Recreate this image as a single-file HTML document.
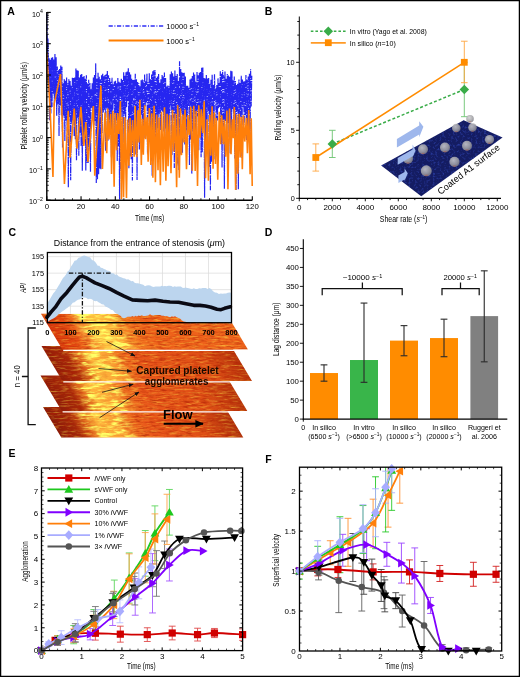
<!DOCTYPE html>
<html><head><meta charset="utf-8"><style>
html,body{margin:0;padding:0;background:#fff;}
svg{display:block;font-family:"Liberation Sans", sans-serif;will-change:transform;}
</style></head><body>
<svg width="520" height="677" viewBox="0 0 520 677">
<rect x="0" y="0" width="520" height="677" fill="#fff"/>
<text x="7.2" y="14.9" font-size="10.5" text-anchor="start" font-weight="bold" fill="#000"  style="">A</text><polyline points="46.8,13.71 47.38,55.1 47.96,38.54 48.55,92.11 49.13,58.21 49.71,120.27 50.29,59.78 50.88,113.61 51.46,57.65 52.04,106.92 52.62,57.38 53.2,93.66 53.79,59.49 54.37,105.4 54.95,53.94 55.53,98.49 56.12,57.38 56.7,115.81 57.28,66.45 57.86,104.52 58.44,70.24 59.03,135.98 59.61,69 60.19,105.45 60.77,65.06 61.36,115.29 61.94,66.72 62.52,147.51 63.1,83.29 63.69,115.51 64.27,79.09 64.85,140.97 65.43,80.67 66.01,120.43 66.6,77.27 67.18,131.2 67.76,83.26 68.34,187.45 68.93,79.04 69.51,116.93 70.09,80.7 70.67,180.15 71.25,85.41 71.84,123.6 72.42,77.46 73,120.52 73.58,77.95 74.17,136.33 74.75,77.59 75.33,139.14 75.91,68.42 76.49,160.32 77.08,69.89 77.66,117.62 78.24,70.75 78.82,155.84 79.41,77.44 79.99,132.65 80.57,74.86 81.15,146.51 81.73,73.9 82.32,170.71 82.9,77.05 83.48,137.81 84.06,76 84.65,138.03 85.23,78.76 85.81,170.41 86.39,75.13 86.98,162.63 87.56,83.38 88.14,162.93 88.72,79.78 89.3,148.17 89.89,83.09 90.47,171.72 91.05,89.3 91.63,107.97 92.22,83.15 92.8,116.08 93.38,77.52 93.96,125.16 94.54,74.98 95.13,121 95.71,63.38 96.29,183.12 96.87,78.86 97.46,179.16 98.04,72.75 98.62,174.27 99.2,76.67 99.78,168.5 100.37,79.31 100.95,169.28 101.53,75.22 102.11,132.99 102.7,73.81 103.28,112.38 103.86,76.32 104.44,109.84 105.03,74.96 105.61,150.72 106.19,74.35 106.77,108.23 107.35,70.92 107.94,141.12 108.52,75.27 109.1,136.21 109.68,77.88 110.27,130.15 110.85,81.51 111.43,157.34 112.01,77.86 112.59,141.13 113.18,84.25 113.76,103.45 114.34,81.4 114.92,133.2 115.51,80.81 116.09,120.47 116.67,83.24 117.25,161.11 117.83,77.89 118.42,146.17 119,81.7 119.58,199.53 120.16,82.84 120.75,170.5 121.33,78.73 121.91,111.87 122.49,80.01 123.07,142.85 123.66,72.16 124.24,114.45 124.82,75.33 125.4,154.01 125.99,72.14 126.57,107.03 127.15,71.63 127.73,101 128.32,68.3 128.9,168.19 129.48,72.26 130.06,155.83 130.64,74.44 131.23,159.33 131.81,78.8 132.39,180.4 132.97,80.04 133.56,141.17 134.14,79.61 134.72,104.92 135.3,73.83 135.88,154.44 136.47,79.28 137.05,180.03 137.63,81.92 138.21,108.04 138.8,83.32 139.38,149.39 139.96,86.25 140.54,142.6 141.12,80.38 141.71,114.7 142.29,79.5 142.87,142.89 143.45,80.6 144.04,138.36 144.62,74.54 145.2,106.6 145.78,81.25 146.36,102.14 146.95,73.73 147.53,154.33 148.11,82.18 148.69,114.23 149.28,72.93 149.86,137.53 150.44,78.81 151.02,160.43 151.61,74.53 152.19,175.81 152.77,71.16 153.35,128.41 153.93,70.37 154.52,123.95 155.1,69.95 155.68,153.67 156.26,77.9 156.85,131.62 157.43,76.56 158.01,128.3 158.59,73.9 159.17,113.76 159.76,82.65 160.34,130.06 160.92,79.18 161.5,110.43 162.09,75.01 162.67,112.09 163.25,76.45 163.83,131.43 164.41,72.4 165,128.49 165.58,78.12 166.16,138 166.74,86.47 167.33,129.81 167.91,85.48 168.49,148.42 169.07,86.33 169.65,144.86 170.24,74.36 170.82,105.57 171.4,71.57 171.98,155.1 172.57,73 173.15,117.95 173.73,76.61 174.31,167.9 174.9,70.54 175.48,120.23 176.06,75.92 176.64,163.48 177.22,73.98 177.81,165.26 178.39,81.12 178.97,170.06 179.55,61.23 180.14,154.55 180.72,69.01 181.3,112.7 181.88,72.16 182.46,152.78 183.05,73 183.63,120.09 184.21,72.72 184.79,144.4 185.38,76.45 185.96,136.26 186.54,85.88 187.12,130.31 187.7,85.77 188.29,105.96 188.87,87.72 189.45,164.89 190.03,79.33 190.62,139.37 191.2,78.06 191.78,173.63 192.36,75.88 192.94,131.06 193.53,72.57 194.11,113.42 194.69,74.4 195.27,146.84 195.86,81.43 196.44,155.2 197.02,71.47 197.6,116.57 198.19,75.19 198.77,150.28 199.35,72.79 199.93,133.72 200.51,71.9 201.1,157.27 201.68,67.84 202.26,152.3 202.84,67.47 203.43,116.02 204.01,78.04 204.59,197.71 205.17,78.58 205.75,156.48 206.34,75.1 206.92,141.01 207.5,78.53 208.08,111.31 208.67,77.98 209.25,166.83 209.83,83.77 210.41,190.23 210.99,79.63 211.58,161.72 212.16,74.83 212.74,129.12 213.32,85.03 213.91,159.34 214.49,74.29 215.07,101.14 215.65,88.03 216.23,138.94 216.82,84.62 217.4,120.42 217.98,78.33 218.56,108.12 219.15,82.81 219.73,107.03 220.31,71.21 220.89,143.66 221.48,73.76 222.06,167.55 222.64,70.23 223.22,131.87 223.8,75.06 224.39,188.77 224.97,71.56 225.55,121.03 226.13,78.47 226.72,128.63 227.3,74.07 227.88,123.25 228.46,75.51 229.04,137.33 229.63,76.76 230.21,153.15 230.79,70.85 231.37,134.99 231.96,71.16 232.54,108.88 233.12,80.31 233.7,134.71 234.28,76.54 234.87,158.57 235.45,80.95 236.03,189.9 236.61,84.94 237.2,110.92 237.78,83.86 238.36,189.16 238.94,79.42 239.52,137.53 240.11,82.91 240.69,116.79 241.27,75.65 241.85,157.87 242.44,79.45 243.02,107.24 243.6,81.58 244.18,124.48 244.77,81.38 245.35,115.02 245.93,75 246.51,139.91 247.09,79.83 247.68,135.06 248.26,76.42 248.84,140.95 249.42,73.81 250.01,147.06 250.59,69.19 251.17,106.4 251.75,75.69" stroke="#2626f0" stroke-width="1.2" fill="none" stroke-linejoin="bevel" stroke-dasharray="7 0.9 1.5 0.9"/><rect x="68.33" y="77.16" width="0.9" height="0.9" fill="#fff" opacity="0.85"/><rect x="80.27" y="86.42" width="0.9" height="0.9" fill="#fff" opacity="0.85"/><rect x="218.78" y="86.08" width="0.9" height="0.9" fill="#fff" opacity="0.85"/><rect x="110.72" y="103.41" width="0.9" height="0.9" fill="#fff" opacity="0.85"/><rect x="194.86" y="76.51" width="0.9" height="0.9" fill="#fff" opacity="0.85"/><rect x="182.99" y="95.13" width="0.9" height="0.9" fill="#fff" opacity="0.85"/><rect x="127.95" y="101.04" width="0.9" height="0.9" fill="#fff" opacity="0.85"/><rect x="194.3" y="100.03" width="0.9" height="0.9" fill="#fff" opacity="0.85"/><rect x="157.26" y="91.17" width="0.9" height="0.9" fill="#fff" opacity="0.85"/><rect x="176.96" y="117.02" width="0.9" height="0.9" fill="#fff" opacity="0.85"/><rect x="96.43" y="87.89" width="0.9" height="0.9" fill="#fff" opacity="0.85"/><rect x="164.5" y="82.1" width="0.9" height="0.9" fill="#fff" opacity="0.85"/><rect x="60.74" y="108.67" width="0.9" height="0.9" fill="#fff" opacity="0.85"/><rect x="150.8" y="86.09" width="0.9" height="0.9" fill="#fff" opacity="0.85"/><rect x="89.31" y="85.31" width="0.9" height="0.9" fill="#fff" opacity="0.85"/><rect x="132.45" y="105.43" width="0.9" height="0.9" fill="#fff" opacity="0.85"/><rect x="216.42" y="114.13" width="0.9" height="0.9" fill="#fff" opacity="0.85"/><rect x="237.32" y="105.21" width="0.9" height="0.9" fill="#fff" opacity="0.85"/><rect x="122.81" y="109.92" width="0.9" height="0.9" fill="#fff" opacity="0.85"/><rect x="143.99" y="81.91" width="0.9" height="0.9" fill="#fff" opacity="0.85"/><rect x="94.52" y="94.54" width="0.9" height="0.9" fill="#fff" opacity="0.85"/><rect x="138.43" y="105.6" width="0.9" height="0.9" fill="#fff" opacity="0.85"/><rect x="76.31" y="88.24" width="0.9" height="0.9" fill="#fff" opacity="0.85"/><rect x="133.4" y="98.24" width="0.9" height="0.9" fill="#fff" opacity="0.85"/><rect x="170.98" y="114.13" width="0.9" height="0.9" fill="#fff" opacity="0.85"/><rect x="214.07" y="79.78" width="0.9" height="0.9" fill="#fff" opacity="0.85"/><rect x="101.18" y="83.06" width="0.9" height="0.9" fill="#fff" opacity="0.85"/><rect x="190.25" y="105.75" width="0.9" height="0.9" fill="#fff" opacity="0.85"/><rect x="104.29" y="115.14" width="0.9" height="0.9" fill="#fff" opacity="0.85"/><rect x="133.21" y="99.05" width="0.9" height="0.9" fill="#fff" opacity="0.85"/><rect x="147.77" y="97.72" width="0.9" height="0.9" fill="#fff" opacity="0.85"/><rect x="160.16" y="113.35" width="0.9" height="0.9" fill="#fff" opacity="0.85"/><rect x="95.22" y="94.32" width="0.9" height="0.9" fill="#fff" opacity="0.85"/><rect x="144.87" y="111.18" width="0.9" height="0.9" fill="#fff" opacity="0.85"/><rect x="105.68" y="75.92" width="0.9" height="0.9" fill="#fff" opacity="0.85"/><rect x="210.32" y="86.97" width="0.9" height="0.9" fill="#fff" opacity="0.85"/><rect x="121.41" y="100.48" width="0.9" height="0.9" fill="#fff" opacity="0.85"/><rect x="191.46" y="94.2" width="0.9" height="0.9" fill="#fff" opacity="0.85"/><rect x="178.55" y="117.26" width="0.9" height="0.9" fill="#fff" opacity="0.85"/><rect x="193" y="110.05" width="0.9" height="0.9" fill="#fff" opacity="0.85"/><rect x="115.84" y="95.56" width="0.9" height="0.9" fill="#fff" opacity="0.85"/><rect x="240.41" y="101.05" width="0.9" height="0.9" fill="#fff" opacity="0.85"/><rect x="179.68" y="109.68" width="0.9" height="0.9" fill="#fff" opacity="0.85"/><rect x="238.47" y="107.96" width="0.9" height="0.9" fill="#fff" opacity="0.85"/><rect x="158.59" y="88.99" width="0.9" height="0.9" fill="#fff" opacity="0.85"/><rect x="190.29" y="99.3" width="0.9" height="0.9" fill="#fff" opacity="0.85"/><rect x="179.88" y="118.37" width="0.9" height="0.9" fill="#fff" opacity="0.85"/><rect x="247.63" y="94.35" width="0.9" height="0.9" fill="#fff" opacity="0.85"/><rect x="169.46" y="107.67" width="0.9" height="0.9" fill="#fff" opacity="0.85"/><rect x="146.42" y="90.67" width="0.9" height="0.9" fill="#fff" opacity="0.85"/><rect x="132.87" y="113.5" width="0.9" height="0.9" fill="#fff" opacity="0.85"/><rect x="89.58" y="80.53" width="0.9" height="0.9" fill="#fff" opacity="0.85"/><rect x="91.43" y="96.29" width="0.9" height="0.9" fill="#fff" opacity="0.85"/><rect x="192.7" y="109.12" width="0.9" height="0.9" fill="#fff" opacity="0.85"/><rect x="212.07" y="97.97" width="0.9" height="0.9" fill="#fff" opacity="0.85"/><rect x="239.98" y="109.85" width="0.9" height="0.9" fill="#fff" opacity="0.85"/><rect x="135.45" y="102.93" width="0.9" height="0.9" fill="#fff" opacity="0.85"/><rect x="104.94" y="100.14" width="0.9" height="0.9" fill="#fff" opacity="0.85"/><rect x="135.8" y="101.54" width="0.9" height="0.9" fill="#fff" opacity="0.85"/><rect x="224.16" y="104.56" width="0.9" height="0.9" fill="#fff" opacity="0.85"/><rect x="61.49" y="85.95" width="0.9" height="0.9" fill="#fff" opacity="0.85"/><rect x="137.29" y="117.72" width="0.9" height="0.9" fill="#fff" opacity="0.85"/><rect x="201.43" y="87.01" width="0.9" height="0.9" fill="#fff" opacity="0.85"/><rect x="181.46" y="82.9" width="0.9" height="0.9" fill="#fff" opacity="0.85"/><rect x="104.24" y="81.99" width="0.9" height="0.9" fill="#fff" opacity="0.85"/><rect x="123.11" y="81.18" width="0.9" height="0.9" fill="#fff" opacity="0.85"/><rect x="250.3" y="94.53" width="0.9" height="0.9" fill="#fff" opacity="0.85"/><rect x="134.74" y="86.62" width="0.9" height="0.9" fill="#fff" opacity="0.85"/><rect x="194.38" y="96.68" width="0.9" height="0.9" fill="#fff" opacity="0.85"/><rect x="66.53" y="103.23" width="0.9" height="0.9" fill="#fff" opacity="0.85"/><rect x="186.57" y="118.21" width="0.9" height="0.9" fill="#fff" opacity="0.85"/><rect x="132.17" y="78.66" width="0.9" height="0.9" fill="#fff" opacity="0.85"/><rect x="193.5" y="107.41" width="0.9" height="0.9" fill="#fff" opacity="0.85"/><rect x="77.44" y="93.78" width="0.9" height="0.9" fill="#fff" opacity="0.85"/><rect x="173.48" y="106.27" width="0.9" height="0.9" fill="#fff" opacity="0.85"/><rect x="153.58" y="75.36" width="0.9" height="0.9" fill="#fff" opacity="0.85"/><rect x="180.48" y="95.05" width="0.9" height="0.9" fill="#fff" opacity="0.85"/><rect x="62.75" y="98.03" width="0.9" height="0.9" fill="#fff" opacity="0.85"/><rect x="54.73" y="76.59" width="0.9" height="0.9" fill="#fff" opacity="0.85"/><rect x="153.82" y="92.49" width="0.9" height="0.9" fill="#fff" opacity="0.85"/><rect x="186.61" y="117.05" width="0.9" height="0.9" fill="#fff" opacity="0.85"/><rect x="214.81" y="88.2" width="0.9" height="0.9" fill="#fff" opacity="0.85"/><rect x="64.64" y="78.74" width="0.9" height="0.9" fill="#fff" opacity="0.85"/><rect x="223.75" y="75.43" width="0.9" height="0.9" fill="#fff" opacity="0.85"/><rect x="68.77" y="78.69" width="0.9" height="0.9" fill="#fff" opacity="0.85"/><rect x="206.39" y="107.68" width="0.9" height="0.9" fill="#fff" opacity="0.85"/><rect x="66.16" y="89.17" width="0.9" height="0.9" fill="#fff" opacity="0.85"/><rect x="62.78" y="94.82" width="0.9" height="0.9" fill="#fff" opacity="0.85"/><rect x="211.64" y="101.45" width="0.9" height="0.9" fill="#fff" opacity="0.85"/><rect x="116.88" y="100.54" width="0.9" height="0.9" fill="#fff" opacity="0.85"/><rect x="73.08" y="116.09" width="0.9" height="0.9" fill="#fff" opacity="0.85"/><rect x="163.3" y="82.95" width="0.9" height="0.9" fill="#fff" opacity="0.85"/><rect x="248.92" y="114.26" width="0.9" height="0.9" fill="#fff" opacity="0.85"/><rect x="110.95" y="83.01" width="0.9" height="0.9" fill="#fff" opacity="0.85"/><rect x="108.69" y="85.16" width="0.9" height="0.9" fill="#fff" opacity="0.85"/><rect x="238.74" y="81.17" width="0.9" height="0.9" fill="#fff" opacity="0.85"/><rect x="175.31" y="86.9" width="0.9" height="0.9" fill="#fff" opacity="0.85"/><rect x="221.99" y="112.64" width="0.9" height="0.9" fill="#fff" opacity="0.85"/><rect x="117.68" y="86.66" width="0.9" height="0.9" fill="#fff" opacity="0.85"/><rect x="146" y="85.11" width="0.9" height="0.9" fill="#fff" opacity="0.85"/><rect x="245.5" y="87.08" width="0.9" height="0.9" fill="#fff" opacity="0.85"/><rect x="168.43" y="87.13" width="0.9" height="0.9" fill="#fff" opacity="0.85"/><rect x="235.96" y="114.51" width="0.9" height="0.9" fill="#fff" opacity="0.85"/><rect x="59.73" y="84.12" width="0.9" height="0.9" fill="#fff" opacity="0.85"/><rect x="221.11" y="89.96" width="0.9" height="0.9" fill="#fff" opacity="0.85"/><rect x="141.66" y="107.11" width="0.9" height="0.9" fill="#fff" opacity="0.85"/><rect x="247.41" y="87.92" width="0.9" height="0.9" fill="#fff" opacity="0.85"/><rect x="247.79" y="89.88" width="0.9" height="0.9" fill="#fff" opacity="0.85"/><rect x="221.45" y="108.72" width="0.9" height="0.9" fill="#fff" opacity="0.85"/><rect x="194.82" y="114.6" width="0.9" height="0.9" fill="#fff" opacity="0.85"/><rect x="115.75" y="99.17" width="0.9" height="0.9" fill="#fff" opacity="0.85"/><rect x="155.08" y="75.29" width="0.9" height="0.9" fill="#fff" opacity="0.85"/><rect x="176.45" y="114.11" width="0.9" height="0.9" fill="#fff" opacity="0.85"/><rect x="210.07" y="85.53" width="0.9" height="0.9" fill="#fff" opacity="0.85"/><rect x="216.5" y="77.86" width="0.9" height="0.9" fill="#fff" opacity="0.85"/><rect x="206.78" y="96.14" width="0.9" height="0.9" fill="#fff" opacity="0.85"/><rect x="183.48" y="116.41" width="0.9" height="0.9" fill="#fff" opacity="0.85"/><rect x="125.23" y="100.93" width="0.9" height="0.9" fill="#fff" opacity="0.85"/><rect x="197.79" y="116.12" width="0.9" height="0.9" fill="#fff" opacity="0.85"/><rect x="91.41" y="108.28" width="0.9" height="0.9" fill="#fff" opacity="0.85"/><rect x="90.41" y="98.1" width="0.9" height="0.9" fill="#fff" opacity="0.85"/><rect x="249.36" y="104.43" width="0.9" height="0.9" fill="#fff" opacity="0.85"/><rect x="63.82" y="118.05" width="0.9" height="0.9" fill="#fff" opacity="0.85"/><rect x="199.63" y="101.56" width="0.9" height="0.9" fill="#fff" opacity="0.85"/><rect x="247.99" y="107.91" width="0.9" height="0.9" fill="#fff" opacity="0.85"/><rect x="245.27" y="105.13" width="0.9" height="0.9" fill="#fff" opacity="0.85"/><rect x="246.08" y="77.97" width="0.9" height="0.9" fill="#fff" opacity="0.85"/><rect x="130.43" y="114.91" width="0.9" height="0.9" fill="#fff" opacity="0.85"/><rect x="174.61" y="93.15" width="0.9" height="0.9" fill="#fff" opacity="0.85"/><rect x="177.78" y="112.55" width="0.9" height="0.9" fill="#fff" opacity="0.85"/><rect x="218.21" y="103.72" width="0.9" height="0.9" fill="#fff" opacity="0.85"/><rect x="113.83" y="115.53" width="0.9" height="0.9" fill="#fff" opacity="0.85"/><rect x="54.49" y="99.15" width="0.9" height="0.9" fill="#fff" opacity="0.85"/><rect x="76.92" y="105.31" width="0.9" height="0.9" fill="#fff" opacity="0.85"/><rect x="198.01" y="85.76" width="0.9" height="0.9" fill="#fff" opacity="0.85"/><rect x="139.46" y="108.98" width="0.9" height="0.9" fill="#fff" opacity="0.85"/><rect x="175.93" y="101.95" width="0.9" height="0.9" fill="#fff" opacity="0.85"/><rect x="247.53" y="85.28" width="0.9" height="0.9" fill="#fff" opacity="0.85"/><rect x="222.13" y="106.95" width="0.9" height="0.9" fill="#fff" opacity="0.85"/><rect x="203.9" y="100.27" width="0.9" height="0.9" fill="#fff" opacity="0.85"/><polyline points="46.8,52.46 50.05,108.49 52.96,177.04 54.16,103.8 60.5,74.06 64.44,183.92 68.21,110.68 70.09,157.63 74.2,108.49 76.94,148.55 80.88,106.93 83.79,146.05 85.84,121.95 87.9,162.01 93.38,105.99 94.75,175.79 100.91,85.64 102.46,168.9 105.03,112.56 106.74,153.25 107.77,108.43 108.99,139.44 110.59,113.69 111.56,173.87 112.84,110.82 114.14,186.72 115.17,113.11 116.6,150.16 117.71,113 118.84,133.89 120.38,101.06 121.44,199.03 122.47,116.93 123.55,197.31 124.93,117.38 126.47,197.92 127.65,119.49 128.86,165.74 130.04,117.91 131.22,156.97 132.56,120.15 134.17,156.83 135.18,106.01 136.72,157.29 137.86,110.15 138.89,142.43 139.93,99.85 141.32,165.05 142.28,118.8 143.32,154.84 144.71,105.36 145.66,139.32 147.14,117.16 148.11,161.72 149.39,108.1 150.79,165.07 151.78,113.28 152.89,177.86 154.11,105.66 155.4,182.13 156.69,114.51 158.02,170.15 159.07,117.4 160.38,185.19 161.58,111.69 163.18,171.7 164.46,107.23 165.88,180.71 167.08,113.85 168.06,166.19 169.54,115.07 170.98,173.3 172.57,109.69 173.64,151.47 175.21,113.45 176.63,187.19 177.71,105.31 179.33,177.82 180.48,108.39 181.52,155.14 182.85,114.65 183.88,142.52 185.05,109.52 186.5,169.25 187.93,114.96 189.38,135.09 190.75,106.86 192.32,170.74 193.76,105.89 195.19,171 196.27,110.64 197.52,186.04 198.76,105.27 200.07,137.63 201.27,109.18 202.78,133.13 204.18,101.24 205.52,178.19 207.11,119.35 208.39,180.67 209.81,114.47 210.89,155.82 212.08,106.27 213.07,168.72 214.37,112.4 215.44,164.1 216.4,118.01 217.76,179.77 219.28,111.81 220.67,144.25 221.71,115.19 223.31,144.15 224.29,119.43 225.64,156.64 226.9,110.59 227.93,189.15 229.48,108.49 231.01,154.28 232.24,119.36 233.3,138.22 234.32,106.91 235.62,189.9 236.74,114.42 237.88,173.74 239.23,113.83 240.17,157.6 241.28,116.68 242.32,169.31 243.38,115.22 244.76,141.58 246.38,117.92 247.41,153.34 248.75,110.13 250.1,174.12 251.22,118.29 252.23,186.01" stroke="#ff7f0a" stroke-width="1.6" fill="none" stroke-linejoin="bevel"/><line x1="46.8" y1="11.9" x2="46.8" y2="200.8" stroke="#000" stroke-width="1.4" /><line x1="46.2" y1="200.2" x2="252.3" y2="200.2" stroke="#000" stroke-width="1.4" /><line x1="46.8" y1="200.2" x2="50.8" y2="200.2" stroke="#000" stroke-width="1.1" /><text x="43" y="204.3" font-size="7.2" text-anchor="end">10<tspan dy="-3.1" font-size="5.2">&#8722;2</tspan></text><line x1="46.8" y1="190.78" x2="48.8" y2="190.78" stroke="#000" stroke-width="0.8" /><line x1="46.8" y1="185.27" x2="48.8" y2="185.27" stroke="#000" stroke-width="0.8" /><line x1="46.8" y1="181.36" x2="48.8" y2="181.36" stroke="#000" stroke-width="0.8" /><line x1="46.8" y1="178.32" x2="48.8" y2="178.32" stroke="#000" stroke-width="0.8" /><line x1="46.8" y1="175.84" x2="48.8" y2="175.84" stroke="#000" stroke-width="0.8" /><line x1="46.8" y1="173.75" x2="48.8" y2="173.75" stroke="#000" stroke-width="0.8" /><line x1="46.8" y1="171.93" x2="48.8" y2="171.93" stroke="#000" stroke-width="0.8" /><line x1="46.8" y1="170.33" x2="48.8" y2="170.33" stroke="#000" stroke-width="0.8" /><line x1="46.8" y1="168.9" x2="50.8" y2="168.9" stroke="#000" stroke-width="1.1" /><text x="43" y="173" font-size="7.2" text-anchor="end">10<tspan dy="-3.1" font-size="5.2">&#8722;1</tspan></text><line x1="46.8" y1="159.48" x2="48.8" y2="159.48" stroke="#000" stroke-width="0.8" /><line x1="46.8" y1="153.97" x2="48.8" y2="153.97" stroke="#000" stroke-width="0.8" /><line x1="46.8" y1="150.06" x2="48.8" y2="150.06" stroke="#000" stroke-width="0.8" /><line x1="46.8" y1="147.02" x2="48.8" y2="147.02" stroke="#000" stroke-width="0.8" /><line x1="46.8" y1="144.54" x2="48.8" y2="144.54" stroke="#000" stroke-width="0.8" /><line x1="46.8" y1="142.45" x2="48.8" y2="142.45" stroke="#000" stroke-width="0.8" /><line x1="46.8" y1="140.63" x2="48.8" y2="140.63" stroke="#000" stroke-width="0.8" /><line x1="46.8" y1="139.03" x2="48.8" y2="139.03" stroke="#000" stroke-width="0.8" /><line x1="46.8" y1="137.6" x2="50.8" y2="137.6" stroke="#000" stroke-width="1.1" /><text x="43" y="141.7" font-size="7.2" text-anchor="end">10<tspan dy="-3.1" font-size="5.2">0</tspan></text><line x1="46.8" y1="128.18" x2="48.8" y2="128.18" stroke="#000" stroke-width="0.8" /><line x1="46.8" y1="122.67" x2="48.8" y2="122.67" stroke="#000" stroke-width="0.8" /><line x1="46.8" y1="118.76" x2="48.8" y2="118.76" stroke="#000" stroke-width="0.8" /><line x1="46.8" y1="115.72" x2="48.8" y2="115.72" stroke="#000" stroke-width="0.8" /><line x1="46.8" y1="113.24" x2="48.8" y2="113.24" stroke="#000" stroke-width="0.8" /><line x1="46.8" y1="111.15" x2="48.8" y2="111.15" stroke="#000" stroke-width="0.8" /><line x1="46.8" y1="109.33" x2="48.8" y2="109.33" stroke="#000" stroke-width="0.8" /><line x1="46.8" y1="107.73" x2="48.8" y2="107.73" stroke="#000" stroke-width="0.8" /><line x1="46.8" y1="106.3" x2="50.8" y2="106.3" stroke="#000" stroke-width="1.1" /><text x="43" y="110.4" font-size="7.2" text-anchor="end">10<tspan dy="-3.1" font-size="5.2">1</tspan></text><line x1="46.8" y1="96.88" x2="48.8" y2="96.88" stroke="#000" stroke-width="0.8" /><line x1="46.8" y1="91.37" x2="48.8" y2="91.37" stroke="#000" stroke-width="0.8" /><line x1="46.8" y1="87.46" x2="48.8" y2="87.46" stroke="#000" stroke-width="0.8" /><line x1="46.8" y1="84.42" x2="48.8" y2="84.42" stroke="#000" stroke-width="0.8" /><line x1="46.8" y1="81.94" x2="48.8" y2="81.94" stroke="#000" stroke-width="0.8" /><line x1="46.8" y1="79.85" x2="48.8" y2="79.85" stroke="#000" stroke-width="0.8" /><line x1="46.8" y1="78.03" x2="48.8" y2="78.03" stroke="#000" stroke-width="0.8" /><line x1="46.8" y1="76.43" x2="48.8" y2="76.43" stroke="#000" stroke-width="0.8" /><line x1="46.8" y1="75" x2="50.8" y2="75" stroke="#000" stroke-width="1.1" /><text x="43" y="79.1" font-size="7.2" text-anchor="end">10<tspan dy="-3.1" font-size="5.2">2</tspan></text><line x1="46.8" y1="65.58" x2="48.8" y2="65.58" stroke="#000" stroke-width="0.8" /><line x1="46.8" y1="60.07" x2="48.8" y2="60.07" stroke="#000" stroke-width="0.8" /><line x1="46.8" y1="56.16" x2="48.8" y2="56.16" stroke="#000" stroke-width="0.8" /><line x1="46.8" y1="53.12" x2="48.8" y2="53.12" stroke="#000" stroke-width="0.8" /><line x1="46.8" y1="50.64" x2="48.8" y2="50.64" stroke="#000" stroke-width="0.8" /><line x1="46.8" y1="48.55" x2="48.8" y2="48.55" stroke="#000" stroke-width="0.8" /><line x1="46.8" y1="46.73" x2="48.8" y2="46.73" stroke="#000" stroke-width="0.8" /><line x1="46.8" y1="45.13" x2="48.8" y2="45.13" stroke="#000" stroke-width="0.8" /><line x1="46.8" y1="43.7" x2="50.8" y2="43.7" stroke="#000" stroke-width="1.1" /><text x="43" y="47.8" font-size="7.2" text-anchor="end">10<tspan dy="-3.1" font-size="5.2">3</tspan></text><line x1="46.8" y1="34.28" x2="48.8" y2="34.28" stroke="#000" stroke-width="0.8" /><line x1="46.8" y1="28.77" x2="48.8" y2="28.77" stroke="#000" stroke-width="0.8" /><line x1="46.8" y1="24.86" x2="48.8" y2="24.86" stroke="#000" stroke-width="0.8" /><line x1="46.8" y1="21.82" x2="48.8" y2="21.82" stroke="#000" stroke-width="0.8" /><line x1="46.8" y1="19.34" x2="48.8" y2="19.34" stroke="#000" stroke-width="0.8" /><line x1="46.8" y1="17.25" x2="48.8" y2="17.25" stroke="#000" stroke-width="0.8" /><line x1="46.8" y1="15.43" x2="48.8" y2="15.43" stroke="#000" stroke-width="0.8" /><line x1="46.8" y1="13.83" x2="48.8" y2="13.83" stroke="#000" stroke-width="0.8" /><line x1="46.8" y1="12.4" x2="50.8" y2="12.4" stroke="#000" stroke-width="1.1" /><text x="43" y="16.5" font-size="7.2" text-anchor="end">10<tspan dy="-3.1" font-size="5.2">4</tspan></text><line x1="46.8" y1="200.2" x2="46.8" y2="196.2" stroke="#000" stroke-width="1.1" /><text x="46.8" y="209" font-size="7.8" text-anchor="middle" font-weight="normal" fill="#000"  style="">0</text><line x1="55.36" y1="200.2" x2="55.36" y2="198.2" stroke="#000" stroke-width="0.8" /><line x1="63.92" y1="200.2" x2="63.92" y2="198.2" stroke="#000" stroke-width="0.8" /><line x1="72.49" y1="200.2" x2="72.49" y2="198.2" stroke="#000" stroke-width="0.8" /><line x1="81.05" y1="200.2" x2="81.05" y2="196.2" stroke="#000" stroke-width="1.1" /><text x="81.05" y="209" font-size="7.8" text-anchor="middle" font-weight="normal" fill="#000"  style="">20</text><line x1="89.61" y1="200.2" x2="89.61" y2="198.2" stroke="#000" stroke-width="0.8" /><line x1="98.17" y1="200.2" x2="98.17" y2="198.2" stroke="#000" stroke-width="0.8" /><line x1="106.74" y1="200.2" x2="106.74" y2="198.2" stroke="#000" stroke-width="0.8" /><line x1="115.3" y1="200.2" x2="115.3" y2="196.2" stroke="#000" stroke-width="1.1" /><text x="115.3" y="209" font-size="7.8" text-anchor="middle" font-weight="normal" fill="#000"  style="">40</text><line x1="123.86" y1="200.2" x2="123.86" y2="198.2" stroke="#000" stroke-width="0.8" /><line x1="132.43" y1="200.2" x2="132.43" y2="198.2" stroke="#000" stroke-width="0.8" /><line x1="140.99" y1="200.2" x2="140.99" y2="198.2" stroke="#000" stroke-width="0.8" /><line x1="149.55" y1="200.2" x2="149.55" y2="196.2" stroke="#000" stroke-width="1.1" /><text x="149.55" y="209" font-size="7.8" text-anchor="middle" font-weight="normal" fill="#000"  style="">60</text><line x1="158.11" y1="200.2" x2="158.11" y2="198.2" stroke="#000" stroke-width="0.8" /><line x1="166.68" y1="200.2" x2="166.68" y2="198.2" stroke="#000" stroke-width="0.8" /><line x1="175.24" y1="200.2" x2="175.24" y2="198.2" stroke="#000" stroke-width="0.8" /><line x1="183.8" y1="200.2" x2="183.8" y2="196.2" stroke="#000" stroke-width="1.1" /><text x="183.8" y="209" font-size="7.8" text-anchor="middle" font-weight="normal" fill="#000"  style="">80</text><line x1="192.36" y1="200.2" x2="192.36" y2="198.2" stroke="#000" stroke-width="0.8" /><line x1="200.93" y1="200.2" x2="200.93" y2="198.2" stroke="#000" stroke-width="0.8" /><line x1="209.49" y1="200.2" x2="209.49" y2="198.2" stroke="#000" stroke-width="0.8" /><line x1="218.05" y1="200.2" x2="218.05" y2="196.2" stroke="#000" stroke-width="1.1" /><text x="218.05" y="209" font-size="7.8" text-anchor="middle" font-weight="normal" fill="#000"  style="">100</text><line x1="226.61" y1="200.2" x2="226.61" y2="198.2" stroke="#000" stroke-width="0.8" /><line x1="235.18" y1="200.2" x2="235.18" y2="198.2" stroke="#000" stroke-width="0.8" /><line x1="243.74" y1="200.2" x2="243.74" y2="198.2" stroke="#000" stroke-width="0.8" /><line x1="252.3" y1="200.2" x2="252.3" y2="196.2" stroke="#000" stroke-width="1.1" /><text x="252.3" y="209" font-size="7.8" text-anchor="middle" font-weight="normal" fill="#000"  style="">120</text><text x="149.6" y="221.4" font-size="8.9" text-anchor="middle" font-weight="normal" fill="#000" textLength="29.1" lengthAdjust="spacingAndGlyphs"  style="">Time (ms)</text><text transform="translate(27.2,105.8) rotate(-90)" font-size="8.9" text-anchor="middle" textLength="87.5" lengthAdjust="spacingAndGlyphs">Platelet rolling velocity (&#956;m/s)</text><rect x="106" y="20" width="104" height="26" fill="#fff"/><line x1="108.6" y1="26" x2="163.5" y2="26" stroke="#2f2ff5" stroke-width="1.5" stroke-dasharray="4.2 1.6 1 1.6"/><line x1="108.6" y1="40.5" x2="163.5" y2="40.5" stroke="#ff7f00" stroke-width="1.8" /><text x="166.3" y="29" font-size="7.6">10000 s<tspan dy="-2.6" font-size="5">&#8722;1</tspan></text><text x="166.3" y="43.5" font-size="7.6">1000 s<tspan dy="-2.6" font-size="5">&#8722;1</tspan></text><text x="264.8" y="15.2" font-size="10.5" text-anchor="start" font-weight="bold" fill="#000"  style="">B</text><line x1="315.8" y1="143.9" x2="315.8" y2="171.1" stroke="#ffa640" stroke-width="0.9" /><line x1="312.5" y1="143.9" x2="319.1" y2="143.9" stroke="#ffa640" stroke-width="0.9" /><line x1="312.5" y1="171.1" x2="319.1" y2="171.1" stroke="#ffa640" stroke-width="0.9" /><line x1="332.3" y1="130.3" x2="332.3" y2="157.5" stroke="#6cc46f" stroke-width="0.9" /><line x1="329" y1="130.3" x2="335.6" y2="130.3" stroke="#6cc46f" stroke-width="0.9" /><line x1="329" y1="157.5" x2="335.6" y2="157.5" stroke="#6cc46f" stroke-width="0.9" /><line x1="464.3" y1="62.3" x2="464.3" y2="116.7" stroke="#6cc46f" stroke-width="0.9" /><line x1="461" y1="62.3" x2="467.6" y2="62.3" stroke="#6cc46f" stroke-width="0.9" /><line x1="461" y1="116.7" x2="467.6" y2="116.7" stroke="#6cc46f" stroke-width="0.9" /><line x1="464.3" y1="41.22" x2="464.3" y2="82.7" stroke="#ffa640" stroke-width="0.9" /><line x1="461" y1="41.22" x2="467.6" y2="41.22" stroke="#ffa640" stroke-width="0.9" /><line x1="461" y1="82.7" x2="467.6" y2="82.7" stroke="#ffa640" stroke-width="0.9" /><line x1="332.3" y1="143.9" x2="464.3" y2="89.5" stroke="#39ac48" stroke-width="1.5" stroke-dasharray="3 2"/><line x1="315.8" y1="157.5" x2="464.3" y2="62.3" stroke="#ff8c00" stroke-width="1.5" /><rect x="312.4" y="154.1" width="6.8" height="6.8" fill="#ff8c00"/><rect x="460.9" y="58.9" width="6.8" height="6.8" fill="#ff8c00"/><path d="M332.3,139.15 L337.05,143.9 L332.3,148.65 L327.55,143.9 Z" fill="#39ac48"/><path d="M464.3,84.75 L469.05,89.5 L464.3,94.25 L459.55,89.5 Z" fill="#39ac48"/><defs><filter id="nz" x="0" y="0" width="100%" height="100%" color-interpolation-filters="sRGB"><feTurbulence type="fractalNoise" baseFrequency="0.45" numOctaves="2" seed="3"/><feColorMatrix type="matrix" values="0 0 0 0 0.18  0 0 0 0 0.26  0 0 0 0 0.68  2.2 0 0 0 -1.1"/><feComposite in2="SourceGraphic" operator="in"/></filter></defs><path d="M381.2,165.5 L463.7,120.3 L502.5,137.5 L421.2,196.3 Z" fill="#141c62"/><path d="M381.2,165.5 L463.7,120.3 L502.5,137.5 L421.2,196.3 Z" fill="#fff" filter="url(#nz)"/><defs><radialGradient id="sg" cx="0.4" cy="0.35" r="0.7"><stop offset="0" stop-color="#cfcfd0"/><stop offset="0.6" stop-color="#a4a4a8"/><stop offset="1" stop-color="#7a7a84"/></radialGradient><linearGradient id="ag" x1="0" y1="0" x2="1" y2="0"><stop offset="0" stop-color="#9fb8ea"/><stop offset="1" stop-color="#7c9ce0"/></linearGradient></defs><circle cx="470" cy="118.8" r="3.8" fill="url(#sg)" opacity="0.86"/><ellipse cx="470" cy="121.92" rx="1.33" ry="0.57" fill="#c0503a" opacity="0.38"/><circle cx="456.3" cy="128" r="4.3" fill="url(#sg)" opacity="0.86"/><ellipse cx="456.3" cy="131.53" rx="1.5" ry="0.64" fill="#c0503a" opacity="0.38"/><circle cx="472.5" cy="127.5" r="4.3" fill="url(#sg)" opacity="0.86"/><ellipse cx="472.5" cy="131.03" rx="1.5" ry="0.64" fill="#c0503a" opacity="0.38"/><circle cx="489.5" cy="139.5" r="4.6" fill="url(#sg)" opacity="0.86"/><ellipse cx="489.5" cy="143.27" rx="1.61" ry="0.69" fill="#c0503a" opacity="0.38"/><circle cx="467" cy="145.8" r="5" fill="url(#sg)" opacity="0.86"/><ellipse cx="467" cy="149.9" rx="1.75" ry="0.75" fill="#c0503a" opacity="0.38"/><circle cx="445" cy="147.5" r="5" fill="url(#sg)" opacity="0.86"/><ellipse cx="445" cy="151.6" rx="1.75" ry="0.75" fill="#c0503a" opacity="0.38"/><circle cx="423" cy="149.3" r="5" fill="url(#sg)" opacity="0.86"/><ellipse cx="423" cy="153.4" rx="1.75" ry="0.75" fill="#c0503a" opacity="0.38"/><circle cx="454.5" cy="161.8" r="5.1" fill="url(#sg)" opacity="0.86"/><ellipse cx="454.5" cy="165.98" rx="1.78" ry="0.76" fill="#c0503a" opacity="0.38"/><circle cx="426.3" cy="170.8" r="5.5" fill="url(#sg)" opacity="0.86"/><ellipse cx="426.3" cy="175.31" rx="1.92" ry="0.82" fill="#c0503a" opacity="0.38"/><circle cx="408" cy="158.8" r="5" fill="url(#sg)" opacity="0.86"/><ellipse cx="408" cy="162.9" rx="1.75" ry="0.75" fill="#c0503a" opacity="0.38"/><path d="M396.9,138.9 L419.2,125.5 L419.2,121.3 L423.4,126.8 L419.2,137.3 L419.2,134.4 L396.9,147.4 Z" fill="#9eb7ec"/><path d="M397.7,158.1 L412.6,149.6 L412.6,144.6 L415.6,150.6 L412.6,157.4 L412.6,156.2 L397.7,164.8 Z" fill="#9eb7ec"/><path d="M398.4,175.5 L404.6,171.9 L404.6,168.4 L407.8,173.3 L404.6,180.8 L404.6,179.4 L398.4,182.9 Z" fill="#9eb7ec"/><text transform="translate(440.4,195.0) rotate(-37.6)" font-size="9.2" textLength="76" lengthAdjust="spacingAndGlyphs">Coated A1 surface</text><line x1="299.3" y1="16.5" x2="299.3" y2="198.8" stroke="#000" stroke-width="1.0" /><line x1="298.8" y1="198.3" x2="501" y2="198.3" stroke="#000" stroke-width="1.2" /><line x1="296.1" y1="198.3" x2="299.3" y2="198.3" stroke="#000" stroke-width="0.9" /><text x="294.7" y="200.9" font-size="7.3" text-anchor="end" font-weight="normal" fill="#000"  style="">0</text><line x1="297.3" y1="184.7" x2="299.3" y2="184.7" stroke="#000" stroke-width="0.9" /><line x1="297.3" y1="171.1" x2="299.3" y2="171.1" stroke="#000" stroke-width="0.9" /><line x1="297.3" y1="157.5" x2="299.3" y2="157.5" stroke="#000" stroke-width="0.9" /><line x1="297.3" y1="143.9" x2="299.3" y2="143.9" stroke="#000" stroke-width="0.9" /><line x1="296.1" y1="130.3" x2="299.3" y2="130.3" stroke="#000" stroke-width="0.9" /><text x="294.7" y="132.9" font-size="7.3" text-anchor="end" font-weight="normal" fill="#000"  style="">5</text><line x1="297.3" y1="116.7" x2="299.3" y2="116.7" stroke="#000" stroke-width="0.9" /><line x1="297.3" y1="103.1" x2="299.3" y2="103.1" stroke="#000" stroke-width="0.9" /><line x1="297.3" y1="89.5" x2="299.3" y2="89.5" stroke="#000" stroke-width="0.9" /><line x1="297.3" y1="75.9" x2="299.3" y2="75.9" stroke="#000" stroke-width="0.9" /><line x1="296.1" y1="62.3" x2="299.3" y2="62.3" stroke="#000" stroke-width="0.9" /><text x="294.7" y="64.9" font-size="7.3" text-anchor="end" font-weight="normal" fill="#000"  style="">10</text><line x1="297.3" y1="48.7" x2="299.3" y2="48.7" stroke="#000" stroke-width="0.9" /><line x1="297.3" y1="35.1" x2="299.3" y2="35.1" stroke="#000" stroke-width="0.9" /><line x1="297.3" y1="21.5" x2="299.3" y2="21.5" stroke="#000" stroke-width="0.9" /><line x1="299.3" y1="198.3" x2="299.3" y2="201.3" stroke="#000" stroke-width="0.9" /><text x="299.3" y="209.8" font-size="8.0" text-anchor="middle" font-weight="normal" fill="#000"  style="">0</text><line x1="307.55" y1="198.3" x2="307.55" y2="200.1" stroke="#000" stroke-width="0.9" /><line x1="315.8" y1="198.3" x2="315.8" y2="200.1" stroke="#000" stroke-width="0.9" /><line x1="324.05" y1="198.3" x2="324.05" y2="200.1" stroke="#000" stroke-width="0.9" /><line x1="332.3" y1="198.3" x2="332.3" y2="201.3" stroke="#000" stroke-width="0.9" /><text x="332.3" y="209.8" font-size="8.0" text-anchor="middle" font-weight="normal" fill="#000"  style="">2000</text><line x1="340.55" y1="198.3" x2="340.55" y2="200.1" stroke="#000" stroke-width="0.9" /><line x1="348.8" y1="198.3" x2="348.8" y2="200.1" stroke="#000" stroke-width="0.9" /><line x1="357.05" y1="198.3" x2="357.05" y2="200.1" stroke="#000" stroke-width="0.9" /><line x1="365.3" y1="198.3" x2="365.3" y2="201.3" stroke="#000" stroke-width="0.9" /><text x="365.3" y="209.8" font-size="8.0" text-anchor="middle" font-weight="normal" fill="#000"  style="">4000</text><line x1="373.55" y1="198.3" x2="373.55" y2="200.1" stroke="#000" stroke-width="0.9" /><line x1="381.8" y1="198.3" x2="381.8" y2="200.1" stroke="#000" stroke-width="0.9" /><line x1="390.05" y1="198.3" x2="390.05" y2="200.1" stroke="#000" stroke-width="0.9" /><line x1="398.3" y1="198.3" x2="398.3" y2="201.3" stroke="#000" stroke-width="0.9" /><text x="398.3" y="209.8" font-size="8.0" text-anchor="middle" font-weight="normal" fill="#000"  style="">6000</text><line x1="406.55" y1="198.3" x2="406.55" y2="200.1" stroke="#000" stroke-width="0.9" /><line x1="414.8" y1="198.3" x2="414.8" y2="200.1" stroke="#000" stroke-width="0.9" /><line x1="423.05" y1="198.3" x2="423.05" y2="200.1" stroke="#000" stroke-width="0.9" /><line x1="431.3" y1="198.3" x2="431.3" y2="201.3" stroke="#000" stroke-width="0.9" /><text x="431.3" y="209.8" font-size="8.0" text-anchor="middle" font-weight="normal" fill="#000"  style="">8000</text><line x1="439.55" y1="198.3" x2="439.55" y2="200.1" stroke="#000" stroke-width="0.9" /><line x1="447.8" y1="198.3" x2="447.8" y2="200.1" stroke="#000" stroke-width="0.9" /><line x1="456.05" y1="198.3" x2="456.05" y2="200.1" stroke="#000" stroke-width="0.9" /><line x1="464.3" y1="198.3" x2="464.3" y2="201.3" stroke="#000" stroke-width="0.9" /><text x="464.3" y="209.8" font-size="8.0" text-anchor="middle" font-weight="normal" fill="#000"  style="">10000</text><line x1="472.55" y1="198.3" x2="472.55" y2="200.1" stroke="#000" stroke-width="0.9" /><line x1="480.8" y1="198.3" x2="480.8" y2="200.1" stroke="#000" stroke-width="0.9" /><line x1="489.05" y1="198.3" x2="489.05" y2="200.1" stroke="#000" stroke-width="0.9" /><line x1="497.3" y1="198.3" x2="497.3" y2="201.3" stroke="#000" stroke-width="0.9" /><text x="497.3" y="209.8" font-size="8.0" text-anchor="middle" font-weight="normal" fill="#000"  style="">12000</text><text x="403.6" y="221.5" font-size="8.8" text-anchor="middle" textLength="47.6" lengthAdjust="spacingAndGlyphs">Shear rate (<tspan font-style="italic">s</tspan><tspan dy="-3" font-size="5.8">&#8722;1</tspan><tspan dy="3">)</tspan></text><text transform="translate(281.2,107.6) rotate(-90)" font-size="8.8" text-anchor="middle" textLength="66" lengthAdjust="spacingAndGlyphs">Rolling velocity (<tspan font-style="italic">&#956;</tspan>m/s)</text><line x1="310.8" y1="31.2" x2="345.8" y2="31.2" stroke="#39ac48" stroke-width="1.4" stroke-dasharray="2.6 2"/><path d="M328.3,26.45 L333.05,31.2 L328.3,35.95 L323.55,31.2 Z" fill="#39ac48"/><line x1="310.8" y1="42.9" x2="345.8" y2="42.9" stroke="#ff9a26" stroke-width="1.7" /><rect x="324.9" y="39.3" width="6.8" height="6.8" fill="#ff8c00"/><text x="349.8" y="34" font-size="7.6" text-anchor="start" font-weight="normal" fill="#000" textLength="77" lengthAdjust="spacingAndGlyphs"  style="">In vitro (Yago et al. 2008)</text><text x="349.8" y="45.5" font-size="7.6" textLength="46" lengthAdjust="spacingAndGlyphs">In silico (<tspan font-style="italic">n</tspan>=10)</text><text x="264.8" y="235.6" font-size="10.5" text-anchor="start" font-weight="bold" fill="#000"  style="">D</text><rect x="310" y="373.03" width="28" height="46.07" fill="#ff8c00"/><rect x="350" y="360.02" width="28" height="59.08" fill="#39b54a"/><rect x="390" y="340.61" width="28" height="78.49" fill="#ff8c00"/><rect x="430" y="338.06" width="28" height="81.04" fill="#ff8c00"/><rect x="470.4" y="316.11" width="27.7" height="102.99" fill="#808080"/><line x1="324" y1="381.18" x2="324" y2="364.87" stroke="#2a2a2a" stroke-width="1.1" /><line x1="320.6" y1="381.18" x2="327.4" y2="381.18" stroke="#2a2a2a" stroke-width="1.1" /><line x1="320.6" y1="364.87" x2="327.4" y2="364.87" stroke="#2a2a2a" stroke-width="1.1" /><line x1="364" y1="382.32" x2="364" y2="303.06" stroke="#2a2a2a" stroke-width="1.1" /><line x1="360.6" y1="382.32" x2="367.4" y2="382.32" stroke="#2a2a2a" stroke-width="1.1" /><line x1="360.6" y1="303.06" x2="367.4" y2="303.06" stroke="#2a2a2a" stroke-width="1.1" /><line x1="404" y1="355.77" x2="404" y2="325.63" stroke="#2a2a2a" stroke-width="1.1" /><line x1="400.6" y1="355.77" x2="407.4" y2="355.77" stroke="#2a2a2a" stroke-width="1.1" /><line x1="400.6" y1="325.63" x2="407.4" y2="325.63" stroke="#2a2a2a" stroke-width="1.1" /><line x1="444" y1="356.72" x2="444" y2="319.18" stroke="#2a2a2a" stroke-width="1.1" /><line x1="440.6" y1="356.72" x2="447.4" y2="356.72" stroke="#2a2a2a" stroke-width="1.1" /><line x1="440.6" y1="319.18" x2="447.4" y2="319.18" stroke="#2a2a2a" stroke-width="1.1" /><line x1="484.25" y1="361.84" x2="484.25" y2="270.83" stroke="#2a2a2a" stroke-width="1.1" /><line x1="480.85" y1="361.84" x2="487.65" y2="361.84" stroke="#2a2a2a" stroke-width="1.1" /><line x1="480.85" y1="270.83" x2="487.65" y2="270.83" stroke="#2a2a2a" stroke-width="1.1" /><line x1="303.3" y1="239.2" x2="303.3" y2="419.6" stroke="#000" stroke-width="1.1" /><line x1="302.8" y1="419.1" x2="507.3" y2="419.1" stroke="#000" stroke-width="1.2" /><line x1="299.9" y1="419.1" x2="303.3" y2="419.1" stroke="#000" stroke-width="0.9" /><text x="298.9" y="421.9" font-size="7.8" text-anchor="end" font-weight="normal" fill="#000"  style="">0</text><line x1="299.9" y1="400.14" x2="303.3" y2="400.14" stroke="#000" stroke-width="0.9" /><text x="298.9" y="402.94" font-size="7.8" text-anchor="end" font-weight="normal" fill="#000"  style="">50</text><line x1="299.9" y1="381.18" x2="303.3" y2="381.18" stroke="#000" stroke-width="0.9" /><text x="298.9" y="383.98" font-size="7.8" text-anchor="end" font-weight="normal" fill="#000"  style="">100</text><line x1="299.9" y1="362.22" x2="303.3" y2="362.22" stroke="#000" stroke-width="0.9" /><text x="298.9" y="365.02" font-size="7.8" text-anchor="end" font-weight="normal" fill="#000"  style="">150</text><line x1="299.9" y1="343.26" x2="303.3" y2="343.26" stroke="#000" stroke-width="0.9" /><text x="298.9" y="346.06" font-size="7.8" text-anchor="end" font-weight="normal" fill="#000"  style="">200</text><line x1="299.9" y1="324.3" x2="303.3" y2="324.3" stroke="#000" stroke-width="0.9" /><text x="298.9" y="327.1" font-size="7.8" text-anchor="end" font-weight="normal" fill="#000"  style="">250</text><line x1="299.9" y1="305.34" x2="303.3" y2="305.34" stroke="#000" stroke-width="0.9" /><text x="298.9" y="308.14" font-size="7.8" text-anchor="end" font-weight="normal" fill="#000"  style="">300</text><line x1="299.9" y1="286.38" x2="303.3" y2="286.38" stroke="#000" stroke-width="0.9" /><text x="298.9" y="289.18" font-size="7.8" text-anchor="end" font-weight="normal" fill="#000"  style="">350</text><line x1="299.9" y1="267.42" x2="303.3" y2="267.42" stroke="#000" stroke-width="0.9" /><text x="298.9" y="270.22" font-size="7.8" text-anchor="end" font-weight="normal" fill="#000"  style="">400</text><line x1="299.9" y1="248.46" x2="303.3" y2="248.46" stroke="#000" stroke-width="0.9" /><text x="298.9" y="251.26" font-size="7.8" text-anchor="end" font-weight="normal" fill="#000"  style="">450</text><line x1="303.3" y1="419.1" x2="303.3" y2="421.7" stroke="#000" stroke-width="0.9" /><text x="303.3" y="430.3" font-size="7.1" text-anchor="middle" font-weight="normal" fill="#000"  style="">0</text><text x="324" y="430.3" font-size="7.1" text-anchor="middle" font-weight="normal" fill="#000"  style="">In silico</text><text x="324" y="438.8" font-size="7.1" text-anchor="middle">(6500 <tspan font-style="italic">s</tspan><tspan dy="-2.4" font-size="4.8">&#8722;1</tspan><tspan dy="2.4">)</tspan></text><text x="364" y="430.3" font-size="7.1" text-anchor="middle" font-weight="normal" fill="#000"  style="">In vitro</text><text x="364" y="438.8" font-size="7.1" text-anchor="middle">(&gt;6500 <tspan font-style="italic">s</tspan><tspan dy="-2.4" font-size="4.8">&#8722;1</tspan><tspan dy="2.4">)</tspan></text><text x="404" y="430.3" font-size="7.1" text-anchor="middle" font-weight="normal" fill="#000"  style="">In silico</text><text x="404" y="438.8" font-size="7.1" text-anchor="middle">(10000 <tspan font-style="italic">s</tspan><tspan dy="-2.4" font-size="4.8">&#8722;1</tspan><tspan dy="2.4">)</tspan></text><text x="444" y="430.3" font-size="7.1" text-anchor="middle" font-weight="normal" fill="#000"  style="">In silico</text><text x="444" y="438.8" font-size="7.1" text-anchor="middle">(20000 <tspan font-style="italic">s</tspan><tspan dy="-2.4" font-size="4.8">&#8722;1</tspan><tspan dy="2.4">)</tspan></text><text x="484.25" y="430.3" font-size="7.1" text-anchor="middle" font-weight="normal" fill="#000"  style="">Ruggeri et</text><text x="484.25" y="438.8" font-size="7.1" text-anchor="middle" font-weight="normal" fill="#000"  style="">al. 2006</text><text transform="translate(279.0,329.3) rotate(-90)" font-size="8.7" text-anchor="middle" textLength="53.5" lengthAdjust="spacingAndGlyphs">Lag distance (&#956;m)</text><path d="M322.2,295.3 L322.2,288.6 L402.2,288.6 L402.2,295.3 M362.4,288.6 L362.4,282.4" stroke="#111" stroke-width="1.25" fill="none"/><text x="362.5" y="280.4" font-size="7.3" text-anchor="middle" textLength="39.6" lengthAdjust="spacingAndGlyphs">~10000 <tspan font-style="italic">s</tspan><tspan dy="-2.6" font-size="5">&#8722;1</tspan></text><path d="M442,295.3 L442,288.6 L479.2,288.6 L479.2,295.3 M460.5,288.6 L460.5,282.4" stroke="#111" stroke-width="1.25" fill="none"/><text x="460.2" y="280.4" font-size="7.3" text-anchor="middle" textLength="33.6" lengthAdjust="spacingAndGlyphs">20000 <tspan font-style="italic">s</tspan><tspan dy="-2.6" font-size="5">&#8722;1</tspan></text><text x="8.4" y="235.6" font-size="10.5" text-anchor="start" font-weight="bold" fill="#000"  style="">C</text><text x="53.8" y="246.2" font-size="8.7" textLength="171.2" lengthAdjust="spacingAndGlyphs">Distance from the entrance of stenosis (<tspan font-style="italic">&#956;</tspan>m)</text><defs><filter id="hn" x="0" y="0" width="100%" height="100%" color-interpolation-filters="sRGB"><feTurbulence type="fractalNoise" baseFrequency="0.1 0.55" numOctaves="3" seed="5"/><feColorMatrix type="matrix" values="0 0 0 0 1  0 0 0 0 0.92  0 0 0 0 0.3  2.6 0 0 0 -1.25"/><feComposite in2="SourceGraphic" operator="in"/></filter><filter id="hy" x="0" y="0" width="100%" height="100%" color-interpolation-filters="sRGB"><feTurbulence type="fractalNoise" baseFrequency="0.08 0.3" numOctaves="3" seed="8"/><feColorMatrix type="matrix" values="0 0 0 0 1  0 0 0 0 1  0 0 0 0 0.4  4.5 0 0 0 -2.0"/><feComposite in2="SourceGraphic" operator="in"/></filter><filter id="hd" x="0" y="0" width="100%" height="100%" color-interpolation-filters="sRGB"><feTurbulence type="fractalNoise" baseFrequency="0.12 0.6" numOctaves="3" seed="11"/><feColorMatrix type="matrix" values="0 0 0 0 0.68  0 0 0 0 0.12  0 0 0 0 0.02  0 2.6 0 0 -1.2"/><feComposite in2="SourceGraphic" operator="in"/></filter></defs><defs><linearGradient id="hg3" x1="0" y1="0" x2="1" y2="0"><stop offset="0" stop-color="#8a1a08"/><stop offset="0.11" stop-color="#a4280a"/><stop offset="0.18" stop-color="#e0621c"/><stop offset="0.25" stop-color="#ffb43c"/><stop offset="0.34" stop-color="#fca036"/><stop offset="0.42" stop-color="#ee6e20"/><stop offset="0.52" stop-color="#e8561a"/><stop offset="0.8" stop-color="#e05016"/><stop offset="1" stop-color="#b0320c"/></linearGradient><clipPath id="hc3"><path d="M43,407 L225,407 L243.3,437.5 L61.3,437.5 Z"/></clipPath></defs><g transform="translate(43,407) skewX(30.96)"><rect x="0" y="0" width="182" height="30.5" fill="url(#hg3)"/></g><defs><linearGradient id="mgd3" x1="0" y1="0" x2="1" y2="0"><stop offset="0" stop-color="#fff"/><stop offset="0.14" stop-color="#fff"/><stop offset="0.2" stop-color="#444"/><stop offset="0.37" stop-color="#444"/><stop offset="0.44" stop-color="#fff"/><stop offset="1" stop-color="#fff"/></linearGradient><linearGradient id="mgy3" x1="0" y1="0" x2="1" y2="0"><stop offset="0" stop-color="#000"/><stop offset="0.14" stop-color="#000"/><stop offset="0.2" stop-color="#fff"/><stop offset="0.37" stop-color="#fff"/><stop offset="0.44" stop-color="#000"/><stop offset="1" stop-color="#000"/></linearGradient><mask id="mkd3"><g transform="translate(43,407) skewX(30.96)"><rect x="0" y="0" width="182" height="30.5" fill="url(#mgd3)"/></g></mask><mask id="mky3"><g transform="translate(43,407) skewX(30.96)"><rect x="0" y="0" width="182" height="30.5" fill="url(#mgy3)"/></g></mask></defs><g clip-path="url(#hc3)"><rect x="43" y="407" width="200.3" height="30.5" fill="#fff" filter="url(#hn)" opacity="0.45"/><rect x="43" y="407" width="200.3" height="30.5" fill="#fff" filter="url(#hy)" opacity="1" mask="url(#mky3)"/><rect x="43" y="407" width="200.3" height="30.5" fill="#fff" filter="url(#hd)" opacity="0.62" mask="url(#mkd3)"/></g><defs><linearGradient id="hg2" x1="0" y1="0" x2="1" y2="0"><stop offset="0" stop-color="#901c08"/><stop offset="0.11" stop-color="#a82a0a"/><stop offset="0.17" stop-color="#e0621c"/><stop offset="0.23" stop-color="#ffb43c"/><stop offset="0.32" stop-color="#fca036"/><stop offset="0.4" stop-color="#ee6e20"/><stop offset="0.5" stop-color="#e8561a"/><stop offset="0.8" stop-color="#e05016"/><stop offset="1" stop-color="#b8360c"/></linearGradient><clipPath id="hc2"><path d="M40.5,375.5 L226,375.5 L247.3,411 L61.8,411 Z"/></clipPath></defs><g transform="translate(40.5,375.5) skewX(30.96)"><rect x="0" y="0" width="185.5" height="35.5" fill="url(#hg2)"/></g><defs><linearGradient id="mgd2" x1="0" y1="0" x2="1" y2="0"><stop offset="0" stop-color="#fff"/><stop offset="0.12" stop-color="#fff"/><stop offset="0.18" stop-color="#444"/><stop offset="0.35" stop-color="#444"/><stop offset="0.42" stop-color="#fff"/><stop offset="1" stop-color="#fff"/></linearGradient><linearGradient id="mgy2" x1="0" y1="0" x2="1" y2="0"><stop offset="0" stop-color="#000"/><stop offset="0.12" stop-color="#000"/><stop offset="0.18" stop-color="#fff"/><stop offset="0.35" stop-color="#fff"/><stop offset="0.42" stop-color="#000"/><stop offset="1" stop-color="#000"/></linearGradient><mask id="mkd2"><g transform="translate(40.5,375.5) skewX(30.96)"><rect x="0" y="0" width="185.5" height="35.5" fill="url(#mgd2)"/></g></mask><mask id="mky2"><g transform="translate(40.5,375.5) skewX(30.96)"><rect x="0" y="0" width="185.5" height="35.5" fill="url(#mgy2)"/></g></mask></defs><g clip-path="url(#hc2)"><rect x="40.5" y="375.5" width="206.8" height="35.5" fill="#fff" filter="url(#hn)" opacity="0.45"/><rect x="40.5" y="375.5" width="206.8" height="35.5" fill="#fff" filter="url(#hy)" opacity="1" mask="url(#mky2)"/><rect x="40.5" y="375.5" width="206.8" height="35.5" fill="#fff" filter="url(#hd)" opacity="0.62" mask="url(#mkd2)"/></g><line x1="62.6" y1="411.8" x2="247.8" y2="411.8" stroke="#fff" stroke-width="1.3" /><defs><linearGradient id="hg1" x1="0" y1="0" x2="1" y2="0"><stop offset="0" stop-color="#901c08"/><stop offset="0.1" stop-color="#a8280a"/><stop offset="0.16" stop-color="#dc5c1a"/><stop offset="0.22" stop-color="#ffb43c"/><stop offset="0.31" stop-color="#fca436"/><stop offset="0.38" stop-color="#f07020"/><stop offset="0.48" stop-color="#e8561a"/><stop offset="0.8" stop-color="#e05016"/><stop offset="1" stop-color="#b8340c"/></linearGradient><clipPath id="hc1"><path d="M41.5,346 L231,346 L252,381 L62.5,381 Z"/></clipPath></defs><g transform="translate(41.5,346) skewX(30.96)"><rect x="0" y="0" width="189.5" height="35" fill="url(#hg1)"/></g><defs><linearGradient id="mgd1" x1="0" y1="0" x2="1" y2="0"><stop offset="0" stop-color="#fff"/><stop offset="0.11" stop-color="#fff"/><stop offset="0.17" stop-color="#444"/><stop offset="0.34" stop-color="#444"/><stop offset="0.41" stop-color="#fff"/><stop offset="1" stop-color="#fff"/></linearGradient><linearGradient id="mgy1" x1="0" y1="0" x2="1" y2="0"><stop offset="0" stop-color="#000"/><stop offset="0.11" stop-color="#000"/><stop offset="0.17" stop-color="#fff"/><stop offset="0.34" stop-color="#fff"/><stop offset="0.41" stop-color="#000"/><stop offset="1" stop-color="#000"/></linearGradient><mask id="mkd1"><g transform="translate(41.5,346) skewX(30.96)"><rect x="0" y="0" width="189.5" height="35" fill="url(#mgd1)"/></g></mask><mask id="mky1"><g transform="translate(41.5,346) skewX(30.96)"><rect x="0" y="0" width="189.5" height="35" fill="url(#mgy1)"/></g></mask></defs><g clip-path="url(#hc1)"><rect x="41.5" y="346" width="210.5" height="35" fill="#fff" filter="url(#hn)" opacity="0.45"/><rect x="41.5" y="346" width="210.5" height="35" fill="#fff" filter="url(#hy)" opacity="1" mask="url(#mky1)"/><rect x="41.5" y="346" width="210.5" height="35" fill="#fff" filter="url(#hd)" opacity="0.62" mask="url(#mkd1)"/></g><line x1="63.3" y1="381.8" x2="252.5" y2="381.8" stroke="#fff" stroke-width="1.3" /><defs><linearGradient id="hg0" x1="0" y1="0" x2="1" y2="0"><stop offset="0" stop-color="#d8380c"/><stop offset="0.1" stop-color="#e64c12"/><stop offset="0.18" stop-color="#f6802a"/><stop offset="0.25" stop-color="#ffc844"/><stop offset="0.33" stop-color="#ffb43c"/><stop offset="0.42" stop-color="#f47a22"/><stop offset="0.55" stop-color="#ee601a"/><stop offset="1" stop-color="#ee641c"/></linearGradient><clipPath id="hc0"><path d="M41,313.8 L226.5,313.8 L247.92,349.5 L62.42,349.5 Z"/></clipPath></defs><g transform="translate(41,313.8) skewX(30.96)"><rect x="0" y="0" width="185.5" height="35.7" fill="url(#hg0)"/></g><defs><linearGradient id="mgd0" x1="0" y1="0" x2="1" y2="0"><stop offset="0" stop-color="#fff"/><stop offset="0.14" stop-color="#fff"/><stop offset="0.2" stop-color="#444"/><stop offset="0.36" stop-color="#444"/><stop offset="0.43" stop-color="#fff"/><stop offset="1" stop-color="#fff"/></linearGradient><linearGradient id="mgy0" x1="0" y1="0" x2="1" y2="0"><stop offset="0" stop-color="#000"/><stop offset="0.14" stop-color="#000"/><stop offset="0.2" stop-color="#fff"/><stop offset="0.36" stop-color="#fff"/><stop offset="0.43" stop-color="#000"/><stop offset="1" stop-color="#000"/></linearGradient><mask id="mkd0"><g transform="translate(41,313.8) skewX(30.96)"><rect x="0" y="0" width="185.5" height="35.7" fill="url(#mgd0)"/></g></mask><mask id="mky0"><g transform="translate(41,313.8) skewX(30.96)"><rect x="0" y="0" width="185.5" height="35.7" fill="url(#mgy0)"/></g></mask></defs><g clip-path="url(#hc0)"><rect x="41" y="313.8" width="206.92" height="35.7" fill="#fff" filter="url(#hn)" opacity="0.5"/><rect x="41" y="313.8" width="206.92" height="35.7" fill="#fff" filter="url(#hy)" opacity="1" mask="url(#mky0)"/><rect x="41" y="313.8" width="206.92" height="35.7" fill="#fff" filter="url(#hd)" opacity="0.55" mask="url(#mkd0)"/></g><line x1="63.22" y1="350.3" x2="248.42" y2="350.3" stroke="#fff" stroke-width="1.3" /><rect x="47.4" y="252.5" width="184.1" height="61.3" fill="#fff"/><line x1="70.41" y1="252.5" x2="70.41" y2="313.8" stroke="#d8d8d8" stroke-width="0.7" /><line x1="93.42" y1="252.5" x2="93.42" y2="313.8" stroke="#d8d8d8" stroke-width="0.7" /><line x1="116.44" y1="252.5" x2="116.44" y2="313.8" stroke="#d8d8d8" stroke-width="0.7" /><line x1="139.45" y1="252.5" x2="139.45" y2="313.8" stroke="#d8d8d8" stroke-width="0.7" /><line x1="162.46" y1="252.5" x2="162.46" y2="313.8" stroke="#d8d8d8" stroke-width="0.7" /><line x1="185.47" y1="252.5" x2="185.47" y2="313.8" stroke="#d8d8d8" stroke-width="0.7" /><line x1="208.49" y1="252.5" x2="208.49" y2="313.8" stroke="#d8d8d8" stroke-width="0.7" /><line x1="47.4" y1="306.18" x2="231.5" y2="306.18" stroke="#d8d8d8" stroke-width="0.7" /><line x1="47.4" y1="289.66" x2="231.5" y2="289.66" stroke="#d8d8d8" stroke-width="0.7" /><line x1="47.4" y1="273.15" x2="231.5" y2="273.15" stroke="#d8d8d8" stroke-width="0.7" /><line x1="47.4" y1="256.63" x2="231.5" y2="256.63" stroke="#d8d8d8" stroke-width="0.7" /><path d="M46.9,303.33 L48.52,301.51 L50.14,298.87 L51.76,296.09 L53.38,293.16 L55,291.41 L56.6,288.99 L58.2,286.14 L59.8,283.69 L61.4,280.87 L63,278.1 L64.5,276.42 L66,274.52 L67.5,271.6 L69,270.41 L70.87,266.79 L72.73,263.96 L74.6,260.86 L76.55,260.2 L78.5,257.83 L80.4,257.18 L82.3,255.96 L84.15,255.4 L86,256.06 L88,257 L90,257.16 L92,259.98 L94,260.82 L95.85,262.72 L97.7,265.84 L99.28,265.77 L100.85,267.8 L102.42,268.03 L104,269.07 L105.5,269.53 L107,270.48 L108.5,270.81 L110,271.35 L111.72,273.26 L113.45,273.13 L115.18,274.64 L116.9,274.59 L118.52,276.36 L120.14,276.95 L121.76,277.46 L123.38,278.17 L125,278.61 L126.6,279.42 L128.2,279.17 L129.8,280.27 L131.4,281.36 L133,281.08 L134.6,282.69 L136.2,283.24 L137.96,283.13 L139.72,283.63 L141.48,284.31 L143.24,284.78 L145,286.19 L146.73,285.51 L148.47,285.17 L150.2,285.43 L151.93,286.47 L153.67,287.02 L155.4,286.49 L157,286.4 L158.6,286.4 L160.2,286.6 L161.8,285.78 L163.4,286.24 L165,286.08 L166.6,286.26 L168.2,285.72 L169.8,285.79 L171.4,286.12 L173,287.01 L174.6,286.29 L176.17,286.8 L177.73,286.56 L179.3,286.44 L180.87,286.56 L182.43,287.77 L184,287.89 L185.63,287.49 L187.27,288.09 L188.9,288.25 L190.53,288.72 L192.17,288.97 L193.8,288.37 L195.6,289.06 L197.4,288.9 L199.2,288.25 L201,288.54 L202.64,288.09 L204.28,288.03 L205.92,287.95 L207.56,288.93 L209.2,288.03 L211.13,289.06 L213.07,291.26 L215,292.38 L216.93,292.71 L218.87,293.94 L220.8,293.57 L222.53,293.63 L224.27,293.44 L226,293.39 L227.83,292.87 L229.67,292.56 L231.5,292.77 L231.5,323.26 L229.97,323.38 L228.43,323.04 L226.9,322.67 L225.36,322.35 L223.83,323.34 L222.29,322.74 L220.76,323.02 L219.22,322.04 L217.69,322.3 L216.16,323.17 L214.62,323.11 L213.09,323.23 L211.55,322.84 L210.02,322.6 L208.48,322.81 L206.95,323.19 L205.41,322.43 L203.88,322.75 L202.34,322.39 L200.81,323.08 L199.28,322.01 L197.74,322.96 L196.21,323.34 L194.67,322.03 L193.14,322.83 L191.6,322.9 L190.07,323.19 L188.53,322.82 L187,322.36 L185.33,321.67 L183.67,321.54 L182,320.57 L180.25,318.74 L178.5,317.93 L176.75,317.18 L175,316.34 L173.4,316.83 L171.8,316.3 L170.2,317.21 L168.6,316.82 L167,315.98 L165.25,316.3 L163.5,315.75 L161.75,315.74 L160,315.11 L158.33,314.95 L156.67,314.89 L155,315.08 L153.33,315.46 L151.67,315.15 L150,314.36 L148.33,315.46 L146.67,315.86 L145,315.88 L143.33,316.07 L141.67,315.14 L140,315.95 L138.5,315.47 L137,316.54 L135.5,315.8 L134,316.63 L132.5,316.07 L131,316.78 L129.25,316.74 L127.5,316.86 L125.75,317.84 L124,318.23 L122.22,317.81 L120.45,315.71 L118.68,314.75 L116.9,313.57 L114.93,312.79 L112.97,310.27 L111,309.64 L109.13,308.28 L107.27,307.36 L105.4,306.45 L103.6,304.6 L101.8,304.21 L100,303.04 L98.45,302.33 L96.9,300.89 L95.35,301.19 L93.8,300.67 L91.87,299.3 L89.93,298.75 L88,299.19 L86.1,297.78 L84.2,297.57 L82.3,297.4 L80.15,299.19 L78,299.86 L76.3,300.68 L74.6,302.17 L72.73,302.83 L70.87,305.2 L69,306.42 L67.5,307.77 L66,308.85 L64.5,310.11 L63,311.12 L61.4,311.97 L59.8,313.61 L58.2,314.45 L56.6,316.19 L55,317.44 L53.33,318.48 L51.67,319.27 L50,320.13 L48.45,321.24 L46.9,322.3 Z" fill="#bcd5ee"/><line x1="68.8" y1="273.15" x2="111.3" y2="273.15" stroke="#111" stroke-width="1.3" stroke-dasharray="4.5 1.8 1.2 1.8"/><line x1="82.4" y1="273.15" x2="82.4" y2="322.7" stroke="#111" stroke-width="1.3" stroke-dasharray="4.5 1.8 1.2 1.8"/><polyline points="46.9,317.36 51,312.11 55.4,307.15 61,298.82 66.9,292.42 72,285.81 76.5,280.33 79.5,276.95 82.3,276.32 86,277.59 90,280 95,282.87 101.5,285.42 109,288.46 116.9,292.65 124,296.11 132.3,299.84 140,300.35 147.7,300.8 155,300.14 163,301.29 170,301.99 178.5,302.24 186,303.78 193.8,305.34 200,305.34 205.4,305.95 211,307.19 217,309.24 221,309.68 224.6,308.33 230.4,306.77" stroke="#0a0a14" stroke-width="3.6" fill="none" stroke-linejoin="round" stroke-linecap="round"/><rect x="47.4" y="252.5" width="184.1" height="70.2" fill="none" stroke="#000" stroke-width="1.3"/><text x="44" y="325.3" font-size="7.4" text-anchor="end" font-weight="normal" fill="#000"  style="">115</text><text x="44" y="308.78" font-size="7.4" text-anchor="end" font-weight="normal" fill="#000"  style="">135</text><text x="44" y="292.26" font-size="7.4" text-anchor="end" font-weight="normal" fill="#000"  style="">155</text><text x="44" y="275.75" font-size="7.4" text-anchor="end" font-weight="normal" fill="#000"  style="">175</text><text x="44" y="259.23" font-size="7.4" text-anchor="end" font-weight="normal" fill="#000"  style="">195</text><text transform="translate(25.9,287.9) rotate(-90)" font-size="9" font-style="italic" text-anchor="middle" textLength="9.6" lengthAdjust="spacingAndGlyphs">API</text><text x="47.4" y="334.6" font-size="7.5" text-anchor="middle" font-weight="bold" fill="#000"  style="">0</text><text x="70.41" y="334.6" font-size="7.5" text-anchor="middle" font-weight="bold" fill="#000"  style="">100</text><text x="93.42" y="334.6" font-size="7.5" text-anchor="middle" font-weight="bold" fill="#000"  style="">200</text><text x="116.44" y="334.6" font-size="7.5" text-anchor="middle" font-weight="bold" fill="#000"  style="">300</text><text x="139.45" y="334.6" font-size="7.5" text-anchor="middle" font-weight="bold" fill="#000"  style="">400</text><text x="162.46" y="334.6" font-size="7.5" text-anchor="middle" font-weight="bold" fill="#000"  style="">500</text><text x="185.47" y="334.6" font-size="7.5" text-anchor="middle" font-weight="bold" fill="#000"  style="">600</text><text x="208.49" y="334.6" font-size="7.5" text-anchor="middle" font-weight="bold" fill="#000"  style="">700</text><text x="231.5" y="334.6" font-size="7.5" text-anchor="middle" font-weight="bold" fill="#000"  style="">800</text><defs><marker id="ah" viewBox="0 0 10 10" refX="9" refY="5" markerWidth="5" markerHeight="5" orient="auto-start-reverse" markerUnits="userSpaceOnUse"><path d="M0,1 L10,5 L0,9 Z" fill="#111"/></marker><marker id="ah2" viewBox="0 0 10 10" refX="9" refY="5" markerWidth="8.5" markerHeight="8.5" orient="auto" markerUnits="userSpaceOnUse"><path d="M0,0.5 L10,5 L0,9.5 Z" fill="#000"/></marker></defs><line x1="106.5" y1="341.5" x2="135" y2="356" stroke="#111" stroke-width="0.75" marker-end="url(#ah)"/><line x1="98.5" y1="368.5" x2="131.5" y2="371.3" stroke="#111" stroke-width="0.75" marker-end="url(#ah)"/><line x1="102" y1="392.3" x2="133.2" y2="384.2" stroke="#111" stroke-width="0.75" marker-end="url(#ah)"/><line x1="99.6" y1="417.7" x2="139" y2="392" stroke="#111" stroke-width="0.75" marker-end="url(#ah)"/><text x="136.3" y="373.6" font-size="10" text-anchor="start" font-weight="bold" fill="#1a0a00" textLength="82.4" lengthAdjust="spacingAndGlyphs"  style="">Captured platelet</text><text x="144.7" y="385" font-size="10" text-anchor="start" font-weight="bold" fill="#1a0a00" textLength="63.8" lengthAdjust="spacingAndGlyphs"  style="">agglomerates</text><text x="163" y="419.4" font-size="13" text-anchor="start" font-weight="bold" fill="#000" textLength="29.6" lengthAdjust="spacingAndGlyphs"  style="">Flow</text><line x1="163.7" y1="423.7" x2="203" y2="423.7" stroke="#000" stroke-width="2" marker-end="url(#ah2)"/><path d="M35.8,328 L28.1,328 L28.1,424.7 L35.8,424.7 M28.1,376.5 L21.9,376.5" stroke="#111" stroke-width="1.3" fill="none"/><text transform="translate(20.0,376.2) rotate(-90)" font-size="8.4" text-anchor="middle" textLength="21.9" lengthAdjust="spacingAndGlyphs">n = 40</text><text x="8.6" y="457.2" font-size="10.5" text-anchor="start" font-weight="bold" fill="#000"  style="">E</text><defs><clipPath id="cpE"><rect x="41.5" y="468.0" width="201.1" height="182.6"/></clipPath></defs><g clip-path="url(#cpE)"><line x1="55.17" y1="637.59" x2="55.17" y2="643.07" stroke="#e04848" stroke-width="0.9" /><line x1="51.77" y1="637.59" x2="58.57" y2="637.59" stroke="#e04848" stroke-width="0.9" /><line x1="51.77" y1="643.07" x2="58.57" y2="643.07" stroke="#e04848" stroke-width="0.9" /><line x1="75.28" y1="628" x2="75.28" y2="639.42" stroke="#e04848" stroke-width="0.9" /><line x1="71.88" y1="628" x2="78.68" y2="628" stroke="#e04848" stroke-width="0.9" /><line x1="71.88" y1="639.42" x2="78.68" y2="639.42" stroke="#e04848" stroke-width="0.9" /><line x1="95.39" y1="626.41" x2="95.39" y2="640.1" stroke="#e04848" stroke-width="0.9" /><line x1="91.99" y1="626.41" x2="98.79" y2="626.41" stroke="#e04848" stroke-width="0.9" /><line x1="91.99" y1="640.1" x2="98.79" y2="640.1" stroke="#e04848" stroke-width="0.9" /><line x1="120.33" y1="626.18" x2="120.33" y2="642.15" stroke="#e04848" stroke-width="0.9" /><line x1="116.93" y1="626.18" x2="123.73" y2="626.18" stroke="#e04848" stroke-width="0.9" /><line x1="116.93" y1="642.15" x2="123.73" y2="642.15" stroke="#e04848" stroke-width="0.9" /><line x1="147.28" y1="627.77" x2="147.28" y2="641.47" stroke="#e04848" stroke-width="0.9" /><line x1="143.88" y1="627.77" x2="150.68" y2="627.77" stroke="#e04848" stroke-width="0.9" /><line x1="143.88" y1="641.47" x2="150.68" y2="641.47" stroke="#e04848" stroke-width="0.9" /><line x1="172.21" y1="626.18" x2="172.21" y2="639.87" stroke="#e04848" stroke-width="0.9" /><line x1="168.81" y1="626.18" x2="175.61" y2="626.18" stroke="#e04848" stroke-width="0.9" /><line x1="168.81" y1="639.87" x2="175.61" y2="639.87" stroke="#e04848" stroke-width="0.9" /><line x1="197.55" y1="628.23" x2="197.55" y2="641.01" stroke="#e04848" stroke-width="0.9" /><line x1="194.15" y1="628.23" x2="200.95" y2="628.23" stroke="#e04848" stroke-width="0.9" /><line x1="194.15" y1="641.01" x2="200.95" y2="641.01" stroke="#e04848" stroke-width="0.9" /><line x1="214.45" y1="628.46" x2="214.45" y2="637.59" stroke="#e04848" stroke-width="0.9" /><line x1="211.05" y1="628.46" x2="217.85" y2="628.46" stroke="#e04848" stroke-width="0.9" /><line x1="211.05" y1="637.59" x2="217.85" y2="637.59" stroke="#e04848" stroke-width="0.9" /><line x1="242.6" y1="628.92" x2="242.6" y2="640.33" stroke="#e04848" stroke-width="0.9" /><line x1="239.2" y1="628.92" x2="246" y2="628.92" stroke="#e04848" stroke-width="0.9" /><line x1="239.2" y1="640.33" x2="246" y2="640.33" stroke="#e04848" stroke-width="0.9" /><line x1="57.59" y1="635.76" x2="57.59" y2="642.61" stroke="#5cd65c" stroke-width="0.9" /><line x1="54.19" y1="635.76" x2="60.99" y2="635.76" stroke="#5cd65c" stroke-width="0.9" /><line x1="54.19" y1="642.61" x2="60.99" y2="642.61" stroke="#5cd65c" stroke-width="0.9" /><line x1="73.68" y1="625.49" x2="73.68" y2="643.75" stroke="#5cd65c" stroke-width="0.9" /><line x1="70.28" y1="625.49" x2="77.08" y2="625.49" stroke="#5cd65c" stroke-width="0.9" /><line x1="70.28" y1="643.75" x2="77.08" y2="643.75" stroke="#5cd65c" stroke-width="0.9" /><line x1="93.79" y1="609.51" x2="93.79" y2="632.34" stroke="#5cd65c" stroke-width="0.9" /><line x1="90.39" y1="609.51" x2="97.19" y2="609.51" stroke="#5cd65c" stroke-width="0.9" /><line x1="90.39" y1="632.34" x2="97.19" y2="632.34" stroke="#5cd65c" stroke-width="0.9" /><line x1="114.3" y1="580.07" x2="114.3" y2="616.59" stroke="#5cd65c" stroke-width="0.9" /><line x1="110.9" y1="580.07" x2="117.7" y2="580.07" stroke="#5cd65c" stroke-width="0.9" /><line x1="110.9" y1="616.59" x2="117.7" y2="616.59" stroke="#5cd65c" stroke-width="0.9" /><line x1="129.18" y1="552.91" x2="129.18" y2="603.12" stroke="#5cd65c" stroke-width="0.9" /><line x1="125.78" y1="552.91" x2="132.58" y2="552.91" stroke="#5cd65c" stroke-width="0.9" /><line x1="125.78" y1="603.12" x2="132.58" y2="603.12" stroke="#5cd65c" stroke-width="0.9" /><line x1="145.27" y1="530.54" x2="145.27" y2="576.19" stroke="#5cd65c" stroke-width="0.9" /><line x1="141.87" y1="530.54" x2="148.67" y2="530.54" stroke="#5cd65c" stroke-width="0.9" /><line x1="141.87" y1="576.19" x2="148.67" y2="576.19" stroke="#5cd65c" stroke-width="0.9" /><line x1="154.92" y1="505.89" x2="154.92" y2="560.67" stroke="#5cd65c" stroke-width="0.9" /><line x1="151.52" y1="505.89" x2="158.32" y2="505.89" stroke="#5cd65c" stroke-width="0.9" /><line x1="151.52" y1="560.67" x2="158.32" y2="560.67" stroke="#5cd65c" stroke-width="0.9" /><line x1="169.4" y1="489.46" x2="169.4" y2="535.11" stroke="#5cd65c" stroke-width="0.9" /><line x1="166" y1="489.46" x2="172.8" y2="489.46" stroke="#5cd65c" stroke-width="0.9" /><line x1="166" y1="535.11" x2="172.8" y2="535.11" stroke="#5cd65c" stroke-width="0.9" /><line x1="57.59" y1="635.76" x2="57.59" y2="644.89" stroke="#747474" stroke-width="0.9" /><line x1="54.19" y1="635.76" x2="60.99" y2="635.76" stroke="#747474" stroke-width="0.9" /><line x1="54.19" y1="644.89" x2="60.99" y2="644.89" stroke="#747474" stroke-width="0.9" /><line x1="75.28" y1="623.67" x2="75.28" y2="641.93" stroke="#747474" stroke-width="0.9" /><line x1="71.88" y1="623.67" x2="78.68" y2="623.67" stroke="#747474" stroke-width="0.9" /><line x1="71.88" y1="641.93" x2="78.68" y2="641.93" stroke="#747474" stroke-width="0.9" /><line x1="93.79" y1="611.34" x2="93.79" y2="625.04" stroke="#747474" stroke-width="0.9" /><line x1="90.39" y1="611.34" x2="97.19" y2="611.34" stroke="#747474" stroke-width="0.9" /><line x1="90.39" y1="625.04" x2="97.19" y2="625.04" stroke="#747474" stroke-width="0.9" /><line x1="112.69" y1="593.54" x2="112.69" y2="611.8" stroke="#747474" stroke-width="0.9" /><line x1="109.29" y1="593.54" x2="116.09" y2="593.54" stroke="#747474" stroke-width="0.9" /><line x1="109.29" y1="611.8" x2="116.09" y2="611.8" stroke="#747474" stroke-width="0.9" /><line x1="134.01" y1="576.42" x2="134.01" y2="599.24" stroke="#747474" stroke-width="0.9" /><line x1="130.61" y1="576.42" x2="137.41" y2="576.42" stroke="#747474" stroke-width="0.9" /><line x1="130.61" y1="599.24" x2="137.41" y2="599.24" stroke="#747474" stroke-width="0.9" /><line x1="152.51" y1="563.87" x2="152.51" y2="586.69" stroke="#747474" stroke-width="0.9" /><line x1="149.11" y1="563.87" x2="155.91" y2="563.87" stroke="#747474" stroke-width="0.9" /><line x1="149.11" y1="586.69" x2="155.91" y2="586.69" stroke="#747474" stroke-width="0.9" /><line x1="164.57" y1="541.04" x2="164.57" y2="568.43" stroke="#747474" stroke-width="0.9" /><line x1="161.17" y1="541.04" x2="167.97" y2="541.04" stroke="#747474" stroke-width="0.9" /><line x1="161.17" y1="568.43" x2="167.97" y2="568.43" stroke="#747474" stroke-width="0.9" /><line x1="57.59" y1="638.05" x2="57.59" y2="644.89" stroke="#a458ff" stroke-width="0.9" /><line x1="54.19" y1="638.05" x2="60.99" y2="638.05" stroke="#a458ff" stroke-width="0.9" /><line x1="54.19" y1="644.89" x2="60.99" y2="644.89" stroke="#a458ff" stroke-width="0.9" /><line x1="73.68" y1="632.8" x2="73.68" y2="641.93" stroke="#a458ff" stroke-width="0.9" /><line x1="70.28" y1="632.8" x2="77.08" y2="632.8" stroke="#a458ff" stroke-width="0.9" /><line x1="70.28" y1="641.93" x2="77.08" y2="641.93" stroke="#a458ff" stroke-width="0.9" /><line x1="90.17" y1="628.46" x2="90.17" y2="639.87" stroke="#a458ff" stroke-width="0.9" /><line x1="86.77" y1="628.46" x2="93.57" y2="628.46" stroke="#a458ff" stroke-width="0.9" /><line x1="86.77" y1="639.87" x2="93.57" y2="639.87" stroke="#a458ff" stroke-width="0.9" /><line x1="112.69" y1="607.23" x2="112.69" y2="625.49" stroke="#a458ff" stroke-width="0.9" /><line x1="109.29" y1="607.23" x2="116.09" y2="607.23" stroke="#a458ff" stroke-width="0.9" /><line x1="109.29" y1="625.49" x2="116.09" y2="625.49" stroke="#a458ff" stroke-width="0.9" /><line x1="135.21" y1="578.7" x2="135.21" y2="615.22" stroke="#a458ff" stroke-width="0.9" /><line x1="131.81" y1="578.7" x2="138.61" y2="578.7" stroke="#a458ff" stroke-width="0.9" /><line x1="131.81" y1="615.22" x2="138.61" y2="615.22" stroke="#a458ff" stroke-width="0.9" /><line x1="152.51" y1="553.59" x2="152.51" y2="612.94" stroke="#a458ff" stroke-width="0.9" /><line x1="149.11" y1="553.59" x2="155.91" y2="553.59" stroke="#a458ff" stroke-width="0.9" /><line x1="149.11" y1="612.94" x2="155.91" y2="612.94" stroke="#a458ff" stroke-width="0.9" /><line x1="169.4" y1="549.03" x2="169.4" y2="580.98" stroke="#a458ff" stroke-width="0.9" /><line x1="166" y1="549.03" x2="172.8" y2="549.03" stroke="#a458ff" stroke-width="0.9" /><line x1="166" y1="580.98" x2="172.8" y2="580.98" stroke="#a458ff" stroke-width="0.9" /><line x1="57.59" y1="635.76" x2="57.59" y2="644.89" stroke="#ffa548" stroke-width="0.9" /><line x1="54.19" y1="635.76" x2="60.99" y2="635.76" stroke="#ffa548" stroke-width="0.9" /><line x1="54.19" y1="644.89" x2="60.99" y2="644.89" stroke="#ffa548" stroke-width="0.9" /><line x1="73.68" y1="628.92" x2="73.68" y2="642.61" stroke="#ffa548" stroke-width="0.9" /><line x1="70.28" y1="628.92" x2="77.08" y2="628.92" stroke="#ffa548" stroke-width="0.9" /><line x1="70.28" y1="642.61" x2="77.08" y2="642.61" stroke="#ffa548" stroke-width="0.9" /><line x1="93.79" y1="615.22" x2="93.79" y2="633.48" stroke="#ffa548" stroke-width="0.9" /><line x1="90.39" y1="615.22" x2="97.19" y2="615.22" stroke="#ffa548" stroke-width="0.9" /><line x1="90.39" y1="633.48" x2="97.19" y2="633.48" stroke="#ffa548" stroke-width="0.9" /><line x1="113.9" y1="591.25" x2="113.9" y2="618.64" stroke="#ffa548" stroke-width="0.9" /><line x1="110.5" y1="591.25" x2="117.3" y2="591.25" stroke="#ffa548" stroke-width="0.9" /><line x1="110.5" y1="618.64" x2="117.3" y2="618.64" stroke="#ffa548" stroke-width="0.9" /><line x1="129.18" y1="553.82" x2="129.18" y2="604.04" stroke="#ffa548" stroke-width="0.9" /><line x1="125.78" y1="553.82" x2="132.58" y2="553.82" stroke="#ffa548" stroke-width="0.9" /><line x1="125.78" y1="604.04" x2="132.58" y2="604.04" stroke="#ffa548" stroke-width="0.9" /><line x1="145.27" y1="532.59" x2="145.27" y2="582.81" stroke="#ffa548" stroke-width="0.9" /><line x1="141.87" y1="532.59" x2="148.67" y2="532.59" stroke="#ffa548" stroke-width="0.9" /><line x1="141.87" y1="582.81" x2="148.67" y2="582.81" stroke="#ffa548" stroke-width="0.9" /><line x1="154.92" y1="513.88" x2="154.92" y2="564.09" stroke="#ffa548" stroke-width="0.9" /><line x1="151.52" y1="513.88" x2="158.32" y2="513.88" stroke="#ffa548" stroke-width="0.9" /><line x1="151.52" y1="564.09" x2="158.32" y2="564.09" stroke="#ffa548" stroke-width="0.9" /><line x1="166.99" y1="494.25" x2="166.99" y2="544.46" stroke="#ffa548" stroke-width="0.9" /><line x1="163.59" y1="494.25" x2="170.39" y2="494.25" stroke="#ffa548" stroke-width="0.9" /><line x1="163.59" y1="544.46" x2="170.39" y2="544.46" stroke="#ffa548" stroke-width="0.9" /><line x1="48.74" y1="641.7" x2="48.74" y2="646.26" stroke="#b8bcff" stroke-width="0.9" /><line x1="45.34" y1="641.7" x2="52.14" y2="641.7" stroke="#b8bcff" stroke-width="0.9" /><line x1="45.34" y1="646.26" x2="52.14" y2="646.26" stroke="#b8bcff" stroke-width="0.9" /><line x1="61.21" y1="630.74" x2="61.21" y2="644.44" stroke="#b8bcff" stroke-width="0.9" /><line x1="57.81" y1="630.74" x2="64.61" y2="630.74" stroke="#b8bcff" stroke-width="0.9" /><line x1="57.81" y1="644.44" x2="64.61" y2="644.44" stroke="#b8bcff" stroke-width="0.9" /><line x1="77.7" y1="619.79" x2="77.7" y2="635.76" stroke="#b8bcff" stroke-width="0.9" /><line x1="74.3" y1="619.79" x2="81.1" y2="619.79" stroke="#b8bcff" stroke-width="0.9" /><line x1="74.3" y1="635.76" x2="81.1" y2="635.76" stroke="#b8bcff" stroke-width="0.9" /><line x1="97.81" y1="609.51" x2="97.81" y2="627.77" stroke="#b8bcff" stroke-width="0.9" /><line x1="94.41" y1="609.51" x2="101.21" y2="609.51" stroke="#b8bcff" stroke-width="0.9" /><line x1="94.41" y1="627.77" x2="101.21" y2="627.77" stroke="#b8bcff" stroke-width="0.9" /><line x1="119.93" y1="599.93" x2="119.93" y2="622.75" stroke="#b8bcff" stroke-width="0.9" /><line x1="116.53" y1="599.93" x2="123.33" y2="599.93" stroke="#b8bcff" stroke-width="0.9" /><line x1="116.53" y1="622.75" x2="123.33" y2="622.75" stroke="#b8bcff" stroke-width="0.9" /><line x1="138.83" y1="566.83" x2="138.83" y2="598.79" stroke="#b8bcff" stroke-width="0.9" /><line x1="135.43" y1="566.83" x2="142.23" y2="566.83" stroke="#b8bcff" stroke-width="0.9" /><line x1="135.43" y1="598.79" x2="142.23" y2="598.79" stroke="#b8bcff" stroke-width="0.9" /><line x1="150.9" y1="549.03" x2="150.9" y2="585.55" stroke="#b8bcff" stroke-width="0.9" /><line x1="147.5" y1="549.03" x2="154.3" y2="549.03" stroke="#b8bcff" stroke-width="0.9" /><line x1="147.5" y1="585.55" x2="154.3" y2="585.55" stroke="#b8bcff" stroke-width="0.9" /><line x1="57.59" y1="638.5" x2="57.59" y2="645.35" stroke="#747474" stroke-width="0.9" /><line x1="54.19" y1="638.5" x2="60.99" y2="638.5" stroke="#747474" stroke-width="0.9" /><line x1="54.19" y1="645.35" x2="60.99" y2="645.35" stroke="#747474" stroke-width="0.9" /><line x1="75.28" y1="626.18" x2="75.28" y2="642.15" stroke="#747474" stroke-width="0.9" /><line x1="71.88" y1="626.18" x2="78.68" y2="626.18" stroke="#747474" stroke-width="0.9" /><line x1="71.88" y1="642.15" x2="78.68" y2="642.15" stroke="#747474" stroke-width="0.9" /><line x1="95.39" y1="606.55" x2="95.39" y2="629.37" stroke="#747474" stroke-width="0.9" /><line x1="91.99" y1="606.55" x2="98.79" y2="606.55" stroke="#747474" stroke-width="0.9" /><line x1="91.99" y1="629.37" x2="98.79" y2="629.37" stroke="#747474" stroke-width="0.9" /><line x1="113.49" y1="591.94" x2="113.49" y2="614.76" stroke="#747474" stroke-width="0.9" /><line x1="110.09" y1="591.94" x2="116.89" y2="591.94" stroke="#747474" stroke-width="0.9" /><line x1="110.09" y1="614.76" x2="116.89" y2="614.76" stroke="#747474" stroke-width="0.9" /><line x1="134.81" y1="573" x2="134.81" y2="604.95" stroke="#747474" stroke-width="0.9" /><line x1="131.41" y1="573" x2="138.21" y2="573" stroke="#747474" stroke-width="0.9" /><line x1="131.41" y1="604.95" x2="138.21" y2="604.95" stroke="#747474" stroke-width="0.9" /><line x1="156.53" y1="550.63" x2="156.53" y2="596.28" stroke="#747474" stroke-width="0.9" /><line x1="153.13" y1="550.63" x2="159.93" y2="550.63" stroke="#747474" stroke-width="0.9" /><line x1="153.13" y1="596.28" x2="159.93" y2="596.28" stroke="#747474" stroke-width="0.9" /><path d="M41.5,650.6 C43.78,648.89 49.54,643.14 55.17,640.33 C60.81,637.51 68.58,634.89 75.28,633.71 C81.99,632.53 87.89,633.18 95.39,633.25 C102.9,633.33 111.68,633.94 120.33,634.17 C128.98,634.39 138.63,634.81 147.28,634.62 C155.93,634.43 163.84,633.02 172.21,633.02 C180.59,633.02 190.52,634.62 197.55,634.62 C204.59,634.62 206.94,633.02 214.45,633.02 C221.95,633.02 237.91,634.36 242.6,634.62" stroke="#d00000" stroke-width="1.8" fill="none"/></g><rect x="37.9" y="647" width="7.2" height="7.2" fill="#d00000"/><rect x="51.57" y="636.73" width="7.2" height="7.2" fill="#d00000"/><rect x="71.68" y="630.11" width="7.2" height="7.2" fill="#d00000"/><rect x="91.79" y="629.65" width="7.2" height="7.2" fill="#d00000"/><rect x="116.73" y="630.57" width="7.2" height="7.2" fill="#d00000"/><rect x="143.68" y="631.02" width="7.2" height="7.2" fill="#d00000"/><rect x="168.61" y="629.42" width="7.2" height="7.2" fill="#d00000"/><rect x="193.95" y="631.02" width="7.2" height="7.2" fill="#d00000"/><rect x="210.85" y="629.42" width="7.2" height="7.2" fill="#d00000"/><rect x="239" y="631.02" width="7.2" height="7.2" fill="#d00000"/><g clip-path="url(#cpE)"><path d="M41.5,650.6 C44.18,648.7 52.23,641.85 57.59,639.19 C62.95,636.52 67.64,637.67 73.68,634.62 C79.71,631.58 87.02,626.98 93.79,620.93 C100.56,614.88 108.4,605.48 114.3,598.33 C120.2,591.18 124.02,585.51 129.18,578.02 C134.34,570.52 140.98,560.82 145.27,553.37 C149.56,545.91 150.9,540.13 154.92,533.28 C158.94,526.43 166.99,515.78 169.4,512.28" stroke="#1ec81e" stroke-width="1.8" fill="none"/></g><path d="M41.5,646.2 L45.9,653.9 L37.1,653.9 Z" fill="#1ec81e"/><path d="M57.59,634.79 L61.99,642.49 L53.19,642.49 Z" fill="#1ec81e"/><path d="M73.68,630.22 L78.08,637.92 L69.28,637.92 Z" fill="#1ec81e"/><path d="M93.79,616.53 L98.19,624.23 L89.39,624.23 Z" fill="#1ec81e"/><path d="M114.3,593.93 L118.7,601.63 L109.9,601.63 Z" fill="#1ec81e"/><path d="M129.18,573.62 L133.58,581.32 L124.78,581.32 Z" fill="#1ec81e"/><path d="M145.27,548.97 L149.67,556.67 L140.87,556.67 Z" fill="#1ec81e"/><path d="M154.92,528.88 L159.32,536.58 L150.52,536.58 Z" fill="#1ec81e"/><path d="M169.4,507.88 L173.8,515.58 L165,515.58 Z" fill="#1ec81e"/><g clip-path="url(#cpE)"><path d="M41.5,650.6 C44.18,648.89 51.96,643.3 57.59,640.33 C63.22,637.36 69.25,636.49 75.28,632.8 C81.32,629.11 87.55,623.21 93.79,618.19 C100.02,613.17 105.99,607.73 112.69,602.67 C119.39,597.61 127.37,592.4 134.01,587.83 C140.64,583.27 147.41,580.79 152.51,575.28 C157.6,569.76 160.08,560.78 164.57,554.74 C169.06,548.69 172.48,541.61 179.45,538.99 C186.43,536.36 197.22,539.21 206.4,538.99 C215.59,538.76 229.86,537.84 234.56,537.62" stroke="#000000" stroke-width="1.8" fill="none"/></g><path d="M41.5,655 L45.9,647.3 L37.1,647.3 Z" fill="#000000"/><path d="M57.59,644.73 L61.99,637.03 L53.19,637.03 Z" fill="#000000"/><path d="M75.28,637.2 L79.68,629.5 L70.88,629.5 Z" fill="#000000"/><path d="M93.79,622.59 L98.19,614.89 L89.39,614.89 Z" fill="#000000"/><path d="M112.69,607.07 L117.09,599.37 L108.29,599.37 Z" fill="#000000"/><path d="M134.01,592.23 L138.41,584.53 L129.61,584.53 Z" fill="#000000"/><path d="M152.51,579.68 L156.91,571.98 L148.11,571.98 Z" fill="#000000"/><path d="M164.57,559.13 L168.97,551.44 L160.17,551.44 Z" fill="#000000"/><path d="M179.45,543.39 L183.85,535.69 L175.05,535.69 Z" fill="#000000"/><path d="M206.4,543.39 L210.8,535.69 L202,535.69 Z" fill="#000000"/><path d="M234.56,542.02 L238.96,534.32 L230.16,534.32 Z" fill="#000000"/><g clip-path="url(#cpE)"><path d="M41.5,650.6 C44.18,649.08 52.23,643.68 57.59,641.47 C62.95,639.26 68.25,638.58 73.68,637.36 C79.11,636.14 83.66,637.67 90.17,634.17 C96.67,630.67 105.18,622.56 112.69,616.36 C120.2,610.16 128.58,602.48 135.21,596.96 C141.85,591.45 146.81,588.59 152.51,583.27 C158.21,577.94 163.7,570.45 169.4,565.01 C175.1,559.57 181.06,552.95 186.69,550.63 C192.32,548.31 200.44,551.01 203.18,551.08" stroke="#8000ff" stroke-width="1.8" fill="none"/></g><path d="M45.9,650.6 L38.2,646.2 L38.2,655 Z" fill="#8000ff"/><path d="M61.99,641.47 L54.29,637.07 L54.29,645.87 Z" fill="#8000ff"/><path d="M78.08,637.36 L70.38,632.96 L70.38,641.76 Z" fill="#8000ff"/><path d="M94.57,634.17 L86.87,629.77 L86.87,638.57 Z" fill="#8000ff"/><path d="M117.09,616.36 L109.39,611.96 L109.39,620.76 Z" fill="#8000ff"/><path d="M139.61,596.96 L131.91,592.56 L131.91,601.36 Z" fill="#8000ff"/><path d="M156.91,583.27 L149.21,578.87 L149.21,587.67 Z" fill="#8000ff"/><path d="M173.8,565.01 L166.1,560.61 L166.1,569.41 Z" fill="#8000ff"/><path d="M191.09,550.63 L183.39,546.23 L183.39,555.03 Z" fill="#8000ff"/><path d="M207.58,551.08 L199.88,546.68 L199.88,555.48 Z" fill="#8000ff"/><g clip-path="url(#cpE)"><path d="M41.5,650.6 C44.18,648.89 52.23,642.8 57.59,640.33 C62.95,637.86 67.64,638.43 73.68,635.76 C79.71,633.1 87.08,629.49 93.79,624.35 C100.49,619.22 108,612.52 113.9,604.95 C119.79,597.38 123.95,586.8 129.18,578.93 C134.41,571.05 140.98,564.36 145.27,557.7 C149.56,551.04 151.3,545.38 154.92,538.99 C158.54,532.59 164.98,522.63 166.99,519.36" stroke="#ff7f0a" stroke-width="1.8" fill="none"/></g><path d="M37.1,650.6 L44.8,646.2 L44.8,655 Z" fill="#ff7f0a"/><path d="M53.19,640.33 L60.89,635.93 L60.89,644.73 Z" fill="#ff7f0a"/><path d="M69.28,635.76 L76.98,631.36 L76.98,640.16 Z" fill="#ff7f0a"/><path d="M89.39,624.35 L97.09,619.95 L97.09,628.75 Z" fill="#ff7f0a"/><path d="M109.5,604.95 L117.2,600.55 L117.2,609.35 Z" fill="#ff7f0a"/><path d="M124.78,578.93 L132.48,574.53 L132.48,583.33 Z" fill="#ff7f0a"/><path d="M140.87,557.7 L148.57,553.3 L148.57,562.1 Z" fill="#ff7f0a"/><path d="M150.52,538.99 L158.22,534.59 L158.22,543.39 Z" fill="#ff7f0a"/><path d="M162.59,519.36 L170.29,514.96 L170.29,523.76 Z" fill="#ff7f0a"/><g clip-path="url(#cpE)"><path d="M41.5,650.6 C42.71,649.5 45.45,646.15 48.74,643.98 C52.02,641.81 56.38,640.29 61.21,637.59 C66.03,634.89 71.6,630.93 77.7,627.77 C83.8,624.62 90.77,621.38 97.81,618.64 C104.85,615.91 113.09,617.31 119.93,611.34 C126.77,605.37 133.67,590.15 138.83,582.81 C143.99,575.47 148.89,569.88 150.9,567.29" stroke="#a8acff" stroke-width="1.8" fill="none"/></g><path d="M41.5,645.7 L45.9,650.6 L41.5,655.5 L37.1,650.6 Z" fill="#a8acff"/><path d="M48.74,639.08 L53.14,643.98 L48.74,648.88 L44.34,643.98 Z" fill="#a8acff"/><path d="M61.21,632.69 L65.61,637.59 L61.21,642.49 L56.81,637.59 Z" fill="#a8acff"/><path d="M77.7,622.88 L82.1,627.77 L77.7,632.67 L73.3,627.77 Z" fill="#a8acff"/><path d="M97.81,613.75 L102.21,618.64 L97.81,623.54 L93.41,618.64 Z" fill="#a8acff"/><path d="M119.93,606.44 L124.33,611.34 L119.93,616.24 L115.53,611.34 Z" fill="#a8acff"/><path d="M138.83,577.91 L143.23,582.81 L138.83,587.71 L134.43,582.81 Z" fill="#a8acff"/><path d="M150.9,562.39 L155.3,567.29 L150.9,572.19 L146.5,567.29 Z" fill="#a8acff"/><g clip-path="url(#cpE)"><path d="M41.5,650.6 C44.18,649.15 51.96,644.67 57.59,641.93 C63.22,639.19 68.98,638.16 75.28,634.17 C81.59,630.17 89.03,623.1 95.39,617.96 C101.76,612.82 106.92,608.18 113.49,603.35 C120.06,598.52 127.64,593.96 134.81,588.97 C141.98,583.99 150.7,579.39 156.53,573.45 C162.36,567.52 164.91,558.88 169.8,553.37 C174.7,547.85 180.19,543.82 185.89,540.36 C191.59,536.89 196.62,534.19 203.99,532.59 C211.36,531 223.9,531.04 230.13,530.77 C236.37,530.5 239.52,530.96 241.39,531" stroke="#555555" stroke-width="1.8" fill="none"/></g><circle cx="41.5" cy="650.6" r="3.25" fill="#555555"/><circle cx="57.59" cy="641.93" r="3.25" fill="#555555"/><circle cx="75.28" cy="634.17" r="3.25" fill="#555555"/><circle cx="95.39" cy="617.96" r="3.25" fill="#555555"/><circle cx="113.49" cy="603.35" r="3.25" fill="#555555"/><circle cx="134.81" cy="588.97" r="3.25" fill="#555555"/><circle cx="156.53" cy="573.45" r="3.25" fill="#555555"/><circle cx="169.8" cy="553.37" r="3.25" fill="#555555"/><circle cx="185.89" cy="540.36" r="3.25" fill="#555555"/><circle cx="203.99" cy="532.59" r="3.25" fill="#555555"/><circle cx="230.13" cy="530.77" r="3.25" fill="#555555"/><circle cx="241.39" cy="531" r="3.25" fill="#555555"/><g clip-path="url(#cpE)"></g><rect x="41.5" y="468" width="201.1" height="182.6" fill="none" stroke="#000" stroke-width="1.3"/><line x1="49.54" y1="650.6" x2="49.54" y2="648.6" stroke="#000" stroke-width="0.7" /><line x1="49.54" y1="468" x2="49.54" y2="470" stroke="#000" stroke-width="0.7" /><line x1="57.59" y1="650.6" x2="57.59" y2="648.6" stroke="#000" stroke-width="0.7" /><line x1="57.59" y1="468" x2="57.59" y2="470" stroke="#000" stroke-width="0.7" /><line x1="65.63" y1="650.6" x2="65.63" y2="648.6" stroke="#000" stroke-width="0.7" /><line x1="65.63" y1="468" x2="65.63" y2="470" stroke="#000" stroke-width="0.7" /><line x1="73.68" y1="650.6" x2="73.68" y2="648.6" stroke="#000" stroke-width="0.7" /><line x1="73.68" y1="468" x2="73.68" y2="470" stroke="#000" stroke-width="0.7" /><line x1="81.72" y1="650.6" x2="81.72" y2="647.4" stroke="#000" stroke-width="1.0" /><line x1="81.72" y1="468" x2="81.72" y2="471.2" stroke="#000" stroke-width="1.0" /><line x1="89.76" y1="650.6" x2="89.76" y2="648.6" stroke="#000" stroke-width="0.7" /><line x1="89.76" y1="468" x2="89.76" y2="470" stroke="#000" stroke-width="0.7" /><line x1="97.81" y1="650.6" x2="97.81" y2="648.6" stroke="#000" stroke-width="0.7" /><line x1="97.81" y1="468" x2="97.81" y2="470" stroke="#000" stroke-width="0.7" /><line x1="105.85" y1="650.6" x2="105.85" y2="648.6" stroke="#000" stroke-width="0.7" /><line x1="105.85" y1="468" x2="105.85" y2="470" stroke="#000" stroke-width="0.7" /><line x1="113.9" y1="650.6" x2="113.9" y2="648.6" stroke="#000" stroke-width="0.7" /><line x1="113.9" y1="468" x2="113.9" y2="470" stroke="#000" stroke-width="0.7" /><line x1="121.94" y1="650.6" x2="121.94" y2="647.4" stroke="#000" stroke-width="1.0" /><line x1="121.94" y1="468" x2="121.94" y2="471.2" stroke="#000" stroke-width="1.0" /><line x1="129.98" y1="650.6" x2="129.98" y2="648.6" stroke="#000" stroke-width="0.7" /><line x1="129.98" y1="468" x2="129.98" y2="470" stroke="#000" stroke-width="0.7" /><line x1="138.03" y1="650.6" x2="138.03" y2="648.6" stroke="#000" stroke-width="0.7" /><line x1="138.03" y1="468" x2="138.03" y2="470" stroke="#000" stroke-width="0.7" /><line x1="146.07" y1="650.6" x2="146.07" y2="648.6" stroke="#000" stroke-width="0.7" /><line x1="146.07" y1="468" x2="146.07" y2="470" stroke="#000" stroke-width="0.7" /><line x1="154.12" y1="650.6" x2="154.12" y2="648.6" stroke="#000" stroke-width="0.7" /><line x1="154.12" y1="468" x2="154.12" y2="470" stroke="#000" stroke-width="0.7" /><line x1="162.16" y1="650.6" x2="162.16" y2="647.4" stroke="#000" stroke-width="1.0" /><line x1="162.16" y1="468" x2="162.16" y2="471.2" stroke="#000" stroke-width="1.0" /><line x1="170.2" y1="650.6" x2="170.2" y2="648.6" stroke="#000" stroke-width="0.7" /><line x1="170.2" y1="468" x2="170.2" y2="470" stroke="#000" stroke-width="0.7" /><line x1="178.25" y1="650.6" x2="178.25" y2="648.6" stroke="#000" stroke-width="0.7" /><line x1="178.25" y1="468" x2="178.25" y2="470" stroke="#000" stroke-width="0.7" /><line x1="186.29" y1="650.6" x2="186.29" y2="648.6" stroke="#000" stroke-width="0.7" /><line x1="186.29" y1="468" x2="186.29" y2="470" stroke="#000" stroke-width="0.7" /><line x1="194.34" y1="650.6" x2="194.34" y2="648.6" stroke="#000" stroke-width="0.7" /><line x1="194.34" y1="468" x2="194.34" y2="470" stroke="#000" stroke-width="0.7" /><line x1="202.38" y1="650.6" x2="202.38" y2="647.4" stroke="#000" stroke-width="1.0" /><line x1="202.38" y1="468" x2="202.38" y2="471.2" stroke="#000" stroke-width="1.0" /><line x1="210.42" y1="650.6" x2="210.42" y2="648.6" stroke="#000" stroke-width="0.7" /><line x1="210.42" y1="468" x2="210.42" y2="470" stroke="#000" stroke-width="0.7" /><line x1="218.47" y1="650.6" x2="218.47" y2="648.6" stroke="#000" stroke-width="0.7" /><line x1="218.47" y1="468" x2="218.47" y2="470" stroke="#000" stroke-width="0.7" /><line x1="226.51" y1="650.6" x2="226.51" y2="648.6" stroke="#000" stroke-width="0.7" /><line x1="226.51" y1="468" x2="226.51" y2="470" stroke="#000" stroke-width="0.7" /><line x1="234.56" y1="650.6" x2="234.56" y2="648.6" stroke="#000" stroke-width="0.7" /><line x1="234.56" y1="468" x2="234.56" y2="470" stroke="#000" stroke-width="0.7" /><line x1="41.5" y1="646.03" x2="43.5" y2="646.03" stroke="#000" stroke-width="0.7" /><line x1="242.6" y1="646.03" x2="240.6" y2="646.03" stroke="#000" stroke-width="0.7" /><line x1="41.5" y1="641.47" x2="43.5" y2="641.47" stroke="#000" stroke-width="0.7" /><line x1="242.6" y1="641.47" x2="240.6" y2="641.47" stroke="#000" stroke-width="0.7" /><line x1="41.5" y1="636.9" x2="43.5" y2="636.9" stroke="#000" stroke-width="0.7" /><line x1="242.6" y1="636.9" x2="240.6" y2="636.9" stroke="#000" stroke-width="0.7" /><line x1="41.5" y1="632.34" x2="43.5" y2="632.34" stroke="#000" stroke-width="0.7" /><line x1="242.6" y1="632.34" x2="240.6" y2="632.34" stroke="#000" stroke-width="0.7" /><line x1="41.5" y1="627.77" x2="44.7" y2="627.77" stroke="#000" stroke-width="1.0" /><line x1="242.6" y1="627.77" x2="239.4" y2="627.77" stroke="#000" stroke-width="1.0" /><line x1="41.5" y1="623.21" x2="43.5" y2="623.21" stroke="#000" stroke-width="0.7" /><line x1="242.6" y1="623.21" x2="240.6" y2="623.21" stroke="#000" stroke-width="0.7" /><line x1="41.5" y1="618.64" x2="43.5" y2="618.64" stroke="#000" stroke-width="0.7" /><line x1="242.6" y1="618.64" x2="240.6" y2="618.64" stroke="#000" stroke-width="0.7" /><line x1="41.5" y1="614.08" x2="43.5" y2="614.08" stroke="#000" stroke-width="0.7" /><line x1="242.6" y1="614.08" x2="240.6" y2="614.08" stroke="#000" stroke-width="0.7" /><line x1="41.5" y1="609.51" x2="43.5" y2="609.51" stroke="#000" stroke-width="0.7" /><line x1="242.6" y1="609.51" x2="240.6" y2="609.51" stroke="#000" stroke-width="0.7" /><line x1="41.5" y1="604.95" x2="44.7" y2="604.95" stroke="#000" stroke-width="1.0" /><line x1="242.6" y1="604.95" x2="239.4" y2="604.95" stroke="#000" stroke-width="1.0" /><line x1="41.5" y1="600.38" x2="43.5" y2="600.38" stroke="#000" stroke-width="0.7" /><line x1="242.6" y1="600.38" x2="240.6" y2="600.38" stroke="#000" stroke-width="0.7" /><line x1="41.5" y1="595.82" x2="43.5" y2="595.82" stroke="#000" stroke-width="0.7" /><line x1="242.6" y1="595.82" x2="240.6" y2="595.82" stroke="#000" stroke-width="0.7" /><line x1="41.5" y1="591.25" x2="43.5" y2="591.25" stroke="#000" stroke-width="0.7" /><line x1="242.6" y1="591.25" x2="240.6" y2="591.25" stroke="#000" stroke-width="0.7" /><line x1="41.5" y1="586.69" x2="43.5" y2="586.69" stroke="#000" stroke-width="0.7" /><line x1="242.6" y1="586.69" x2="240.6" y2="586.69" stroke="#000" stroke-width="0.7" /><line x1="41.5" y1="582.12" x2="44.7" y2="582.12" stroke="#000" stroke-width="1.0" /><line x1="242.6" y1="582.12" x2="239.4" y2="582.12" stroke="#000" stroke-width="1.0" /><line x1="41.5" y1="577.56" x2="43.5" y2="577.56" stroke="#000" stroke-width="0.7" /><line x1="242.6" y1="577.56" x2="240.6" y2="577.56" stroke="#000" stroke-width="0.7" /><line x1="41.5" y1="573" x2="43.5" y2="573" stroke="#000" stroke-width="0.7" /><line x1="242.6" y1="573" x2="240.6" y2="573" stroke="#000" stroke-width="0.7" /><line x1="41.5" y1="568.43" x2="43.5" y2="568.43" stroke="#000" stroke-width="0.7" /><line x1="242.6" y1="568.43" x2="240.6" y2="568.43" stroke="#000" stroke-width="0.7" /><line x1="41.5" y1="563.87" x2="43.5" y2="563.87" stroke="#000" stroke-width="0.7" /><line x1="242.6" y1="563.87" x2="240.6" y2="563.87" stroke="#000" stroke-width="0.7" /><line x1="41.5" y1="559.3" x2="44.7" y2="559.3" stroke="#000" stroke-width="1.0" /><line x1="242.6" y1="559.3" x2="239.4" y2="559.3" stroke="#000" stroke-width="1.0" /><line x1="41.5" y1="554.74" x2="43.5" y2="554.74" stroke="#000" stroke-width="0.7" /><line x1="242.6" y1="554.74" x2="240.6" y2="554.74" stroke="#000" stroke-width="0.7" /><line x1="41.5" y1="550.17" x2="43.5" y2="550.17" stroke="#000" stroke-width="0.7" /><line x1="242.6" y1="550.17" x2="240.6" y2="550.17" stroke="#000" stroke-width="0.7" /><line x1="41.5" y1="545.61" x2="43.5" y2="545.61" stroke="#000" stroke-width="0.7" /><line x1="242.6" y1="545.61" x2="240.6" y2="545.61" stroke="#000" stroke-width="0.7" /><line x1="41.5" y1="541.04" x2="43.5" y2="541.04" stroke="#000" stroke-width="0.7" /><line x1="242.6" y1="541.04" x2="240.6" y2="541.04" stroke="#000" stroke-width="0.7" /><line x1="41.5" y1="536.48" x2="44.7" y2="536.48" stroke="#000" stroke-width="1.0" /><line x1="242.6" y1="536.48" x2="239.4" y2="536.48" stroke="#000" stroke-width="1.0" /><line x1="41.5" y1="531.91" x2="43.5" y2="531.91" stroke="#000" stroke-width="0.7" /><line x1="242.6" y1="531.91" x2="240.6" y2="531.91" stroke="#000" stroke-width="0.7" /><line x1="41.5" y1="527.35" x2="43.5" y2="527.35" stroke="#000" stroke-width="0.7" /><line x1="242.6" y1="527.35" x2="240.6" y2="527.35" stroke="#000" stroke-width="0.7" /><line x1="41.5" y1="522.78" x2="43.5" y2="522.78" stroke="#000" stroke-width="0.7" /><line x1="242.6" y1="522.78" x2="240.6" y2="522.78" stroke="#000" stroke-width="0.7" /><line x1="41.5" y1="518.22" x2="43.5" y2="518.22" stroke="#000" stroke-width="0.7" /><line x1="242.6" y1="518.22" x2="240.6" y2="518.22" stroke="#000" stroke-width="0.7" /><line x1="41.5" y1="513.65" x2="44.7" y2="513.65" stroke="#000" stroke-width="1.0" /><line x1="242.6" y1="513.65" x2="239.4" y2="513.65" stroke="#000" stroke-width="1.0" /><line x1="41.5" y1="509.09" x2="43.5" y2="509.09" stroke="#000" stroke-width="0.7" /><line x1="242.6" y1="509.09" x2="240.6" y2="509.09" stroke="#000" stroke-width="0.7" /><line x1="41.5" y1="504.52" x2="43.5" y2="504.52" stroke="#000" stroke-width="0.7" /><line x1="242.6" y1="504.52" x2="240.6" y2="504.52" stroke="#000" stroke-width="0.7" /><line x1="41.5" y1="499.96" x2="43.5" y2="499.96" stroke="#000" stroke-width="0.7" /><line x1="242.6" y1="499.96" x2="240.6" y2="499.96" stroke="#000" stroke-width="0.7" /><line x1="41.5" y1="495.39" x2="43.5" y2="495.39" stroke="#000" stroke-width="0.7" /><line x1="242.6" y1="495.39" x2="240.6" y2="495.39" stroke="#000" stroke-width="0.7" /><line x1="41.5" y1="490.82" x2="44.7" y2="490.82" stroke="#000" stroke-width="1.0" /><line x1="242.6" y1="490.82" x2="239.4" y2="490.82" stroke="#000" stroke-width="1.0" /><line x1="41.5" y1="486.26" x2="43.5" y2="486.26" stroke="#000" stroke-width="0.7" /><line x1="242.6" y1="486.26" x2="240.6" y2="486.26" stroke="#000" stroke-width="0.7" /><line x1="41.5" y1="481.69" x2="43.5" y2="481.69" stroke="#000" stroke-width="0.7" /><line x1="242.6" y1="481.69" x2="240.6" y2="481.69" stroke="#000" stroke-width="0.7" /><line x1="41.5" y1="477.13" x2="43.5" y2="477.13" stroke="#000" stroke-width="0.7" /><line x1="242.6" y1="477.13" x2="240.6" y2="477.13" stroke="#000" stroke-width="0.7" /><line x1="41.5" y1="472.56" x2="43.5" y2="472.56" stroke="#000" stroke-width="0.7" /><line x1="242.6" y1="472.56" x2="240.6" y2="472.56" stroke="#000" stroke-width="0.7" /><text x="41.5" y="659.4" font-size="8.0" text-anchor="middle" font-weight="normal" fill="#000"  style="">0</text><text x="81.72" y="659.4" font-size="8.0" text-anchor="middle" font-weight="normal" fill="#000"  style="">1</text><text x="121.94" y="659.4" font-size="8.0" text-anchor="middle" font-weight="normal" fill="#000"  style="">2</text><text x="162.16" y="659.4" font-size="8.0" text-anchor="middle" font-weight="normal" fill="#000"  style="">3</text><text x="202.38" y="659.4" font-size="8.0" text-anchor="middle" font-weight="normal" fill="#000"  style="">4</text><text x="242.6" y="659.4" font-size="8.0" text-anchor="middle" font-weight="normal" fill="#000"  style="">5</text><text x="38.1" y="653.4" font-size="8.0" text-anchor="end" font-weight="normal" fill="#000"  style="">0</text><text x="38.1" y="630.57" font-size="8.0" text-anchor="end" font-weight="normal" fill="#000"  style="">1</text><text x="38.1" y="607.75" font-size="8.0" text-anchor="end" font-weight="normal" fill="#000"  style="">2</text><text x="38.1" y="584.92" font-size="8.0" text-anchor="end" font-weight="normal" fill="#000"  style="">3</text><text x="38.1" y="562.1" font-size="8.0" text-anchor="end" font-weight="normal" fill="#000"  style="">4</text><text x="38.1" y="539.27" font-size="8.0" text-anchor="end" font-weight="normal" fill="#000"  style="">5</text><text x="38.1" y="516.45" font-size="8.0" text-anchor="end" font-weight="normal" fill="#000"  style="">6</text><text x="38.1" y="493.62" font-size="8.0" text-anchor="end" font-weight="normal" fill="#000"  style="">7</text><text x="38.1" y="470.8" font-size="8.0" text-anchor="end" font-weight="normal" fill="#000"  style="">8</text><text x="141.3" y="669.3" font-size="8.6" text-anchor="middle" font-weight="normal" fill="#000" textLength="28.5" lengthAdjust="spacingAndGlyphs"  style="">Time (ms)</text><text transform="translate(28.1,561.5) rotate(-90)" font-size="8.6" text-anchor="middle" textLength="40.3" lengthAdjust="spacingAndGlyphs">Agglomeration</text><line x1="47.5" y1="478" x2="90" y2="478" stroke="#d00000" stroke-width="1.8" /><rect x="65.2" y="474.4" width="7.2" height="7.2" fill="#d00000"/><text x="94.5" y="480.6" font-size="7.2" text-anchor="start" font-weight="normal" fill="#000" textLength="31" lengthAdjust="spacingAndGlyphs"  style=""><tspan font-style="italic">i</tspan>VWF only</text><line x1="47.5" y1="489.42" x2="90" y2="489.42" stroke="#1ec81e" stroke-width="1.8" /><path d="M68.8,485.02 L73.2,492.72 L64.4,492.72 Z" fill="#1ec81e"/><text x="94.5" y="492.02" font-size="7.2" text-anchor="start" font-weight="normal" fill="#000" textLength="33" lengthAdjust="spacingAndGlyphs"  style="">sVWF only</text><line x1="47.5" y1="500.84" x2="90" y2="500.84" stroke="#000000" stroke-width="1.8" /><path d="M68.8,505.24 L73.2,497.54 L64.4,497.54 Z" fill="#000000"/><text x="94.5" y="503.44" font-size="7.2" text-anchor="start" font-weight="normal" fill="#000" textLength="22.5" lengthAdjust="spacingAndGlyphs"  style="">Control</text><line x1="47.5" y1="512.26" x2="90" y2="512.26" stroke="#8000ff" stroke-width="1.8" /><path d="M73.2,512.26 L65.5,507.86 L65.5,516.66 Z" fill="#8000ff"/><text x="94.5" y="514.86" font-size="7.2" text-anchor="start" font-weight="normal" fill="#000" textLength="33.5" lengthAdjust="spacingAndGlyphs"  style="">30% <tspan font-style="italic">i</tspan>VWF</text><line x1="47.5" y1="523.68" x2="90" y2="523.68" stroke="#ff7f0a" stroke-width="1.8" /><path d="M64.4,523.68 L72.1,519.28 L72.1,528.08 Z" fill="#ff7f0a"/><text x="94.5" y="526.28" font-size="7.2" text-anchor="start" font-weight="normal" fill="#000" textLength="33.5" lengthAdjust="spacingAndGlyphs"  style="">10% <tspan font-style="italic">i</tspan>VWF</text><line x1="47.5" y1="535.1" x2="90" y2="535.1" stroke="#a8acff" stroke-width="1.8" /><path d="M68.8,530.2 L73.2,535.1 L68.8,540 L64.4,535.1 Z" fill="#a8acff"/><text x="94.5" y="537.7" font-size="7.2" text-anchor="start" font-weight="normal" fill="#000" textLength="29.5" lengthAdjust="spacingAndGlyphs"  style="">1% <tspan font-style="italic">i</tspan>VWF</text><line x1="47.5" y1="546.52" x2="90" y2="546.52" stroke="#555555" stroke-width="1.8" /><circle cx="68.8" cy="546.52" r="3.25" fill="#555555"/><text x="94.5" y="549.12" font-size="7.2" text-anchor="start" font-weight="normal" fill="#000" textLength="27.5" lengthAdjust="spacingAndGlyphs"  style="">3&#215; <tspan font-style="italic">i</tspan>VWF</text><text x="265.2" y="463.2" font-size="10.5" text-anchor="start" font-weight="bold" fill="#000"  style="">F</text><defs><clipPath id="cpF"><rect x="299.5" y="467.2" width="202.2" height="183.8"/></clipPath></defs><g clip-path="url(#cpF)"><line x1="317.7" y1="563.1" x2="317.7" y2="575.88" stroke="#d42020" stroke-width="0.9" /><line x1="314.3" y1="563.1" x2="321.1" y2="563.1" stroke="#d42020" stroke-width="0.9" /><line x1="314.3" y1="575.88" x2="321.1" y2="575.88" stroke="#d42020" stroke-width="0.9" /><line x1="337.92" y1="561.5" x2="337.92" y2="577.48" stroke="#d42020" stroke-width="0.9" /><line x1="334.52" y1="561.5" x2="341.32" y2="561.5" stroke="#d42020" stroke-width="0.9" /><line x1="334.52" y1="577.48" x2="341.32" y2="577.48" stroke="#d42020" stroke-width="0.9" /><line x1="373.1" y1="563.89" x2="373.1" y2="579.88" stroke="#d42020" stroke-width="0.9" /><line x1="369.7" y1="563.89" x2="376.5" y2="563.89" stroke="#d42020" stroke-width="0.9" /><line x1="369.7" y1="579.88" x2="376.5" y2="579.88" stroke="#d42020" stroke-width="0.9" /><line x1="409.5" y1="559.9" x2="409.5" y2="583.87" stroke="#d42020" stroke-width="0.9" /><line x1="406.1" y1="559.9" x2="412.9" y2="559.9" stroke="#d42020" stroke-width="0.9" /><line x1="406.1" y1="583.87" x2="412.9" y2="583.87" stroke="#d42020" stroke-width="0.9" /><line x1="439.83" y1="565.49" x2="439.83" y2="581.48" stroke="#d42020" stroke-width="0.9" /><line x1="436.43" y1="565.49" x2="443.23" y2="565.49" stroke="#d42020" stroke-width="0.9" /><line x1="436.43" y1="581.48" x2="443.23" y2="581.48" stroke="#d42020" stroke-width="0.9" /><line x1="473.39" y1="562.3" x2="473.39" y2="586.27" stroke="#d42020" stroke-width="0.9" /><line x1="469.99" y1="562.3" x2="476.79" y2="562.3" stroke="#d42020" stroke-width="0.9" /><line x1="469.99" y1="586.27" x2="476.79" y2="586.27" stroke="#d42020" stroke-width="0.9" /><line x1="496.04" y1="566.29" x2="496.04" y2="582.27" stroke="#d42020" stroke-width="0.9" /><line x1="492.64" y1="566.29" x2="499.44" y2="566.29" stroke="#d42020" stroke-width="0.9" /><line x1="492.64" y1="582.27" x2="499.44" y2="582.27" stroke="#d42020" stroke-width="0.9" /><line x1="318.51" y1="563.89" x2="318.51" y2="579.88" stroke="#606060" stroke-width="0.9" /><line x1="315.11" y1="563.89" x2="321.91" y2="563.89" stroke="#606060" stroke-width="0.9" /><line x1="315.11" y1="579.88" x2="321.91" y2="579.88" stroke="#606060" stroke-width="0.9" /><line x1="338.73" y1="548.71" x2="338.73" y2="612.64" stroke="#606060" stroke-width="0.9" /><line x1="335.33" y1="548.71" x2="342.13" y2="548.71" stroke="#606060" stroke-width="0.9" /><line x1="335.33" y1="612.64" x2="342.13" y2="612.64" stroke="#606060" stroke-width="0.9" /><line x1="361.78" y1="563.1" x2="361.78" y2="611.04" stroke="#606060" stroke-width="0.9" /><line x1="358.38" y1="563.1" x2="365.18" y2="563.1" stroke="#606060" stroke-width="0.9" /><line x1="358.38" y1="611.04" x2="365.18" y2="611.04" stroke="#606060" stroke-width="0.9" /><line x1="384.02" y1="576.68" x2="384.02" y2="608.65" stroke="#606060" stroke-width="0.9" /><line x1="380.62" y1="576.68" x2="387.42" y2="576.68" stroke="#606060" stroke-width="0.9" /><line x1="380.62" y1="608.65" x2="387.42" y2="608.65" stroke="#606060" stroke-width="0.9" /><line x1="402.22" y1="595.06" x2="402.22" y2="627.03" stroke="#606060" stroke-width="0.9" /><line x1="398.82" y1="595.06" x2="405.62" y2="595.06" stroke="#606060" stroke-width="0.9" /><line x1="398.82" y1="627.03" x2="405.62" y2="627.03" stroke="#606060" stroke-width="0.9" /><line x1="424.06" y1="561.5" x2="424.06" y2="689.36" stroke="#606060" stroke-width="0.9" /><line x1="420.66" y1="561.5" x2="427.46" y2="561.5" stroke="#606060" stroke-width="0.9" /><line x1="420.66" y1="689.36" x2="427.46" y2="689.36" stroke="#606060" stroke-width="0.9" /><line x1="442.25" y1="644.61" x2="442.25" y2="652.6" stroke="#606060" stroke-width="0.9" /><line x1="438.85" y1="644.61" x2="445.65" y2="644.61" stroke="#606060" stroke-width="0.9" /><line x1="438.85" y1="652.6" x2="445.65" y2="652.6" stroke="#606060" stroke-width="0.9" /><line x1="466.11" y1="647.8" x2="466.11" y2="652.6" stroke="#606060" stroke-width="0.9" /><line x1="462.71" y1="647.8" x2="469.51" y2="647.8" stroke="#606060" stroke-width="0.9" /><line x1="462.71" y1="652.6" x2="469.51" y2="652.6" stroke="#606060" stroke-width="0.9" /><line x1="488.76" y1="647.8" x2="488.76" y2="651" stroke="#606060" stroke-width="0.9" /><line x1="485.36" y1="647.8" x2="492.16" y2="647.8" stroke="#606060" stroke-width="0.9" /><line x1="485.36" y1="651" x2="492.16" y2="651" stroke="#606060" stroke-width="0.9" /><line x1="318.91" y1="559.1" x2="318.91" y2="575.08" stroke="#404040" stroke-width="0.9" /><line x1="315.51" y1="559.1" x2="322.31" y2="559.1" stroke="#404040" stroke-width="0.9" /><line x1="315.51" y1="575.08" x2="322.31" y2="575.08" stroke="#404040" stroke-width="0.9" /><line x1="352.88" y1="533.53" x2="352.88" y2="581.48" stroke="#404040" stroke-width="0.9" /><line x1="349.48" y1="533.53" x2="356.28" y2="533.53" stroke="#404040" stroke-width="0.9" /><line x1="349.48" y1="581.48" x2="356.28" y2="581.48" stroke="#404040" stroke-width="0.9" /><line x1="363.8" y1="530.33" x2="363.8" y2="594.26" stroke="#404040" stroke-width="0.9" /><line x1="360.4" y1="530.33" x2="367.2" y2="530.33" stroke="#404040" stroke-width="0.9" /><line x1="360.4" y1="594.26" x2="367.2" y2="594.26" stroke="#404040" stroke-width="0.9" /><line x1="371.89" y1="559.1" x2="371.89" y2="591.07" stroke="#404040" stroke-width="0.9" /><line x1="368.49" y1="559.1" x2="375.29" y2="559.1" stroke="#404040" stroke-width="0.9" /><line x1="368.49" y1="591.07" x2="375.29" y2="591.07" stroke="#404040" stroke-width="0.9" /><line x1="381.19" y1="569.49" x2="381.19" y2="601.45" stroke="#404040" stroke-width="0.9" /><line x1="377.79" y1="569.49" x2="384.59" y2="569.49" stroke="#404040" stroke-width="0.9" /><line x1="377.79" y1="601.45" x2="384.59" y2="601.45" stroke="#404040" stroke-width="0.9" /><line x1="384.83" y1="579.88" x2="384.83" y2="611.84" stroke="#404040" stroke-width="0.9" /><line x1="381.43" y1="579.88" x2="388.23" y2="579.88" stroke="#404040" stroke-width="0.9" /><line x1="381.43" y1="611.84" x2="388.23" y2="611.84" stroke="#404040" stroke-width="0.9" /><line x1="395.75" y1="592.66" x2="395.75" y2="608.65" stroke="#404040" stroke-width="0.9" /><line x1="392.35" y1="592.66" x2="399.15" y2="592.66" stroke="#404040" stroke-width="0.9" /><line x1="392.35" y1="608.65" x2="399.15" y2="608.65" stroke="#404040" stroke-width="0.9" /><line x1="319.72" y1="555.1" x2="319.72" y2="571.09" stroke="#9a44ff" stroke-width="0.9" /><line x1="316.32" y1="555.1" x2="323.12" y2="555.1" stroke="#9a44ff" stroke-width="0.9" /><line x1="316.32" y1="571.09" x2="323.12" y2="571.09" stroke="#9a44ff" stroke-width="0.9" /><line x1="342.77" y1="534.33" x2="342.77" y2="566.29" stroke="#9a44ff" stroke-width="0.9" /><line x1="339.37" y1="534.33" x2="346.17" y2="534.33" stroke="#9a44ff" stroke-width="0.9" /><line x1="339.37" y1="566.29" x2="346.17" y2="566.29" stroke="#9a44ff" stroke-width="0.9" /><line x1="366.63" y1="528.73" x2="366.63" y2="560.7" stroke="#9a44ff" stroke-width="0.9" /><line x1="363.23" y1="528.73" x2="370.03" y2="528.73" stroke="#9a44ff" stroke-width="0.9" /><line x1="363.23" y1="560.7" x2="370.03" y2="560.7" stroke="#9a44ff" stroke-width="0.9" /><line x1="386.85" y1="542.32" x2="386.85" y2="566.29" stroke="#9a44ff" stroke-width="0.9" /><line x1="383.45" y1="542.32" x2="390.25" y2="542.32" stroke="#9a44ff" stroke-width="0.9" /><line x1="383.45" y1="566.29" x2="390.25" y2="566.29" stroke="#9a44ff" stroke-width="0.9" /><line x1="401.41" y1="543.12" x2="401.41" y2="583.07" stroke="#9a44ff" stroke-width="0.9" /><line x1="398.01" y1="543.12" x2="404.81" y2="543.12" stroke="#9a44ff" stroke-width="0.9" /><line x1="398.01" y1="583.07" x2="404.81" y2="583.07" stroke="#9a44ff" stroke-width="0.9" /><line x1="414.75" y1="547.91" x2="414.75" y2="603.85" stroke="#9a44ff" stroke-width="0.9" /><line x1="411.35" y1="547.91" x2="418.15" y2="547.91" stroke="#9a44ff" stroke-width="0.9" /><line x1="411.35" y1="603.85" x2="418.15" y2="603.85" stroke="#9a44ff" stroke-width="0.9" /><line x1="430.53" y1="597.46" x2="430.53" y2="613.44" stroke="#9a44ff" stroke-width="0.9" /><line x1="427.13" y1="597.46" x2="433.93" y2="597.46" stroke="#9a44ff" stroke-width="0.9" /><line x1="427.13" y1="613.44" x2="433.93" y2="613.44" stroke="#9a44ff" stroke-width="0.9" /><line x1="330.23" y1="540.72" x2="330.23" y2="564.69" stroke="#ff9030" stroke-width="0.9" /><line x1="326.83" y1="540.72" x2="333.63" y2="540.72" stroke="#ff9030" stroke-width="0.9" /><line x1="326.83" y1="564.69" x2="333.63" y2="564.69" stroke="#ff9030" stroke-width="0.9" /><line x1="348.03" y1="518.34" x2="348.03" y2="566.29" stroke="#ff9030" stroke-width="0.9" /><line x1="344.63" y1="518.34" x2="351.43" y2="518.34" stroke="#ff9030" stroke-width="0.9" /><line x1="344.63" y1="566.29" x2="351.43" y2="566.29" stroke="#ff9030" stroke-width="0.9" /><line x1="373.1" y1="499.17" x2="373.1" y2="547.11" stroke="#ff9030" stroke-width="0.9" /><line x1="369.7" y1="499.17" x2="376.5" y2="499.17" stroke="#ff9030" stroke-width="0.9" /><line x1="369.7" y1="547.11" x2="376.5" y2="547.11" stroke="#ff9030" stroke-width="0.9" /><line x1="388.06" y1="463.2" x2="388.06" y2="527.13" stroke="#ff9030" stroke-width="0.9" /><line x1="384.66" y1="463.2" x2="391.46" y2="463.2" stroke="#ff9030" stroke-width="0.9" /><line x1="384.66" y1="527.13" x2="391.46" y2="527.13" stroke="#ff9030" stroke-width="0.9" /><line x1="399.79" y1="439.23" x2="399.79" y2="503.16" stroke="#ff9030" stroke-width="0.9" /><line x1="396.39" y1="439.23" x2="403.19" y2="439.23" stroke="#ff9030" stroke-width="0.9" /><line x1="396.39" y1="503.16" x2="403.19" y2="503.16" stroke="#ff9030" stroke-width="0.9" /><line x1="299.5" y1="563.1" x2="299.5" y2="579.08" stroke="#28c828" stroke-width="0.9" /><line x1="296.1" y1="563.1" x2="302.9" y2="563.1" stroke="#28c828" stroke-width="0.9" /><line x1="296.1" y1="579.08" x2="302.9" y2="579.08" stroke="#28c828" stroke-width="0.9" /><line x1="317.7" y1="546.31" x2="317.7" y2="570.29" stroke="#28c828" stroke-width="0.9" /><line x1="314.3" y1="546.31" x2="321.1" y2="546.31" stroke="#28c828" stroke-width="0.9" /><line x1="314.3" y1="570.29" x2="321.1" y2="570.29" stroke="#28c828" stroke-width="0.9" /><line x1="339.94" y1="516.75" x2="339.94" y2="572.69" stroke="#28c828" stroke-width="0.9" /><line x1="336.54" y1="516.75" x2="343.34" y2="516.75" stroke="#28c828" stroke-width="0.9" /><line x1="336.54" y1="572.69" x2="343.34" y2="572.69" stroke="#28c828" stroke-width="0.9" /><line x1="362.99" y1="505.56" x2="362.99" y2="553.51" stroke="#28c828" stroke-width="0.9" /><line x1="359.59" y1="505.56" x2="366.39" y2="505.56" stroke="#28c828" stroke-width="0.9" /><line x1="359.59" y1="553.51" x2="366.39" y2="553.51" stroke="#28c828" stroke-width="0.9" /><line x1="375.53" y1="476.79" x2="375.53" y2="548.71" stroke="#28c828" stroke-width="0.9" /><line x1="372.13" y1="476.79" x2="378.93" y2="476.79" stroke="#28c828" stroke-width="0.9" /><line x1="372.13" y1="548.71" x2="378.93" y2="548.71" stroke="#28c828" stroke-width="0.9" /><line x1="385.64" y1="444.03" x2="385.64" y2="531.93" stroke="#28c828" stroke-width="0.9" /><line x1="382.24" y1="444.03" x2="389.04" y2="444.03" stroke="#28c828" stroke-width="0.9" /><line x1="382.24" y1="531.93" x2="389.04" y2="531.93" stroke="#28c828" stroke-width="0.9" /><line x1="391.7" y1="430.44" x2="391.7" y2="510.35" stroke="#28c828" stroke-width="0.9" /><line x1="388.3" y1="430.44" x2="395.1" y2="430.44" stroke="#28c828" stroke-width="0.9" /><line x1="388.3" y1="510.35" x2="395.1" y2="510.35" stroke="#28c828" stroke-width="0.9" /><line x1="317.7" y1="540.72" x2="317.7" y2="572.69" stroke="#aab0ff" stroke-width="0.9" /><line x1="314.3" y1="540.72" x2="321.1" y2="540.72" stroke="#aab0ff" stroke-width="0.9" /><line x1="314.3" y1="572.69" x2="321.1" y2="572.69" stroke="#aab0ff" stroke-width="0.9" /><line x1="339.94" y1="518.34" x2="339.94" y2="566.29" stroke="#aab0ff" stroke-width="0.9" /><line x1="336.54" y1="518.34" x2="343.34" y2="518.34" stroke="#aab0ff" stroke-width="0.9" /><line x1="336.54" y1="566.29" x2="343.34" y2="566.29" stroke="#aab0ff" stroke-width="0.9" /><line x1="362.99" y1="504.76" x2="362.99" y2="552.71" stroke="#aab0ff" stroke-width="0.9" /><line x1="359.59" y1="504.76" x2="366.39" y2="504.76" stroke="#aab0ff" stroke-width="0.9" /><line x1="359.59" y1="552.71" x2="366.39" y2="552.71" stroke="#aab0ff" stroke-width="0.9" /><line x1="375.53" y1="488.78" x2="375.53" y2="536.72" stroke="#aab0ff" stroke-width="0.9" /><line x1="372.13" y1="488.78" x2="378.93" y2="488.78" stroke="#aab0ff" stroke-width="0.9" /><line x1="372.13" y1="536.72" x2="378.93" y2="536.72" stroke="#aab0ff" stroke-width="0.9" /><line x1="385.64" y1="471.2" x2="385.64" y2="503.16" stroke="#aab0ff" stroke-width="0.9" /><line x1="382.24" y1="471.2" x2="389.04" y2="471.2" stroke="#aab0ff" stroke-width="0.9" /><line x1="382.24" y1="503.16" x2="389.04" y2="503.16" stroke="#aab0ff" stroke-width="0.9" /><line x1="391.7" y1="444.82" x2="391.7" y2="492.77" stroke="#aab0ff" stroke-width="0.9" /><line x1="388.3" y1="444.82" x2="395.1" y2="444.82" stroke="#aab0ff" stroke-width="0.9" /><line x1="388.3" y1="492.77" x2="395.1" y2="492.77" stroke="#aab0ff" stroke-width="0.9" /><path d="M299.5,571.09 C302.53,570.82 311.29,569.76 317.7,569.49 C324.1,569.22 328.68,569.09 337.92,569.49 C347.15,569.89 361.17,571.49 373.1,571.89 C385.03,572.29 398.38,571.62 409.5,571.89 C420.62,572.15 429.18,573.08 439.83,573.48 C450.48,573.88 464.02,574.15 473.39,574.28 C482.76,574.42 492.26,574.28 496.04,574.28" stroke="#d00000" stroke-width="1.8" fill="none"/></g><rect x="295.9" y="567.49" width="7.2" height="7.2" fill="#d00000"/><rect x="314.1" y="565.89" width="7.2" height="7.2" fill="#d00000"/><rect x="334.32" y="565.89" width="7.2" height="7.2" fill="#d00000"/><rect x="369.5" y="568.29" width="7.2" height="7.2" fill="#d00000"/><rect x="405.9" y="568.29" width="7.2" height="7.2" fill="#d00000"/><rect x="436.23" y="569.88" width="7.2" height="7.2" fill="#d00000"/><rect x="469.79" y="570.68" width="7.2" height="7.2" fill="#d00000"/><rect x="492.44" y="570.68" width="7.2" height="7.2" fill="#d00000"/><g clip-path="url(#cpF)"><path d="M299.5,571.09 C302.67,571.22 311.97,570.29 318.51,571.89 C325.04,573.48 331.52,578.15 338.73,580.68 C345.94,583.21 354.23,585.07 361.78,587.07 C369.33,589.07 377.28,588.67 384.02,592.66 C390.76,596.66 395.55,605.58 402.22,611.04 C408.89,616.5 417.38,619.17 424.06,625.43 C430.73,631.69 435.24,644.47 442.25,648.6 C449.26,652.73 458.36,650.07 466.11,650.2 C473.86,650.33 484.98,649.53 488.76,649.4" stroke="#555555" stroke-width="1.8" fill="none"/></g><circle cx="299.5" cy="571.09" r="3.25" fill="#555555"/><circle cx="318.51" cy="571.89" r="3.25" fill="#555555"/><circle cx="338.73" cy="580.68" r="3.25" fill="#555555"/><circle cx="361.78" cy="587.07" r="3.25" fill="#555555"/><circle cx="384.02" cy="592.66" r="3.25" fill="#555555"/><circle cx="402.22" cy="611.04" r="3.25" fill="#555555"/><circle cx="424.06" cy="625.43" r="3.25" fill="#555555"/><circle cx="442.25" cy="648.6" r="3.25" fill="#555555"/><circle cx="466.11" cy="650.2" r="3.25" fill="#555555"/><circle cx="488.76" cy="649.4" r="3.25" fill="#555555"/><g clip-path="url(#cpF)"><path d="M299.5,571.09 C302.74,570.42 310.01,569.36 318.91,567.09 C327.81,564.83 345.4,558.3 352.88,557.5 C360.36,556.7 360.63,559.37 363.8,562.3 C366.97,565.23 368.99,571.22 371.89,575.08 C374.79,578.95 379.03,582.01 381.19,585.47 C383.35,588.93 382.4,593.33 384.83,595.86 C387.25,598.39 391.5,596.53 395.75,600.65 C399.99,604.78 405.99,612.51 410.31,620.63 C414.62,628.76 415.29,644.34 421.63,649.4 C427.96,654.46 439.22,650.73 448.32,651 C457.42,651.27 471.57,651 476.22,651" stroke="#000000" stroke-width="1.8" fill="none"/></g><path d="M299.5,575.49 L303.9,567.79 L295.1,567.79 Z" fill="#000000"/><path d="M318.91,571.49 L323.31,563.79 L314.51,563.79 Z" fill="#000000"/><path d="M352.88,561.9 L357.28,554.2 L348.48,554.2 Z" fill="#000000"/><path d="M363.8,566.7 L368.2,559 L359.4,559 Z" fill="#000000"/><path d="M371.89,579.48 L376.29,571.78 L367.49,571.78 Z" fill="#000000"/><path d="M381.19,589.87 L385.59,582.17 L376.79,582.17 Z" fill="#000000"/><path d="M384.83,600.26 L389.23,592.56 L380.43,592.56 Z" fill="#000000"/><path d="M395.75,605.05 L400.15,597.35 L391.35,597.35 Z" fill="#000000"/><path d="M410.31,625.03 L414.71,617.33 L405.91,617.33 Z" fill="#000000"/><path d="M421.63,653.8 L426.03,646.1 L417.23,646.1 Z" fill="#000000"/><path d="M448.32,655.4 L452.72,647.7 L443.92,647.7 Z" fill="#000000"/><path d="M476.22,655.4 L480.62,647.7 L471.82,647.7 Z" fill="#000000"/><g clip-path="url(#cpF)"><path d="M299.5,571.09 C302.87,569.76 312.51,566.56 319.72,563.1 C326.93,559.63 334.95,553.37 342.77,550.31 C350.59,547.25 359.28,544.05 366.63,544.72 C373.98,545.38 381.05,551.24 386.85,554.31 C392.65,557.37 396.76,559.5 401.41,563.1 C406.06,566.69 409.9,568.82 414.75,575.88 C419.61,582.94 425.94,593.6 430.53,605.45 C435.11,617.3 437.6,639.81 442.25,647 C446.9,654.2 455.73,648.34 458.43,648.6" stroke="#8000ff" stroke-width="1.8" fill="none"/></g><path d="M303.9,571.09 L296.2,566.69 L296.2,575.49 Z" fill="#8000ff"/><path d="M324.12,563.1 L316.42,558.7 L316.42,567.5 Z" fill="#8000ff"/><path d="M347.17,550.31 L339.47,545.91 L339.47,554.71 Z" fill="#8000ff"/><path d="M371.03,544.72 L363.33,540.32 L363.33,549.12 Z" fill="#8000ff"/><path d="M391.25,554.31 L383.55,549.91 L383.55,558.71 Z" fill="#8000ff"/><path d="M405.81,563.1 L398.11,558.7 L398.11,567.5 Z" fill="#8000ff"/><path d="M419.15,575.88 L411.45,571.48 L411.45,580.28 Z" fill="#8000ff"/><path d="M434.93,605.45 L427.23,601.05 L427.23,609.85 Z" fill="#8000ff"/><path d="M446.65,647 L438.95,642.6 L438.95,651.4 Z" fill="#8000ff"/><path d="M462.83,648.6 L455.13,644.2 L455.13,653 Z" fill="#8000ff"/><g clip-path="url(#cpF)"><path d="M299.5,571.09 C304.62,568.02 322.15,557.5 330.23,552.71 C338.32,547.91 340.88,547.25 348.03,542.32 C355.17,537.39 366.43,531 373.1,523.14 C379.77,515.28 383.62,503.83 388.06,495.17 C392.51,486.51 397.84,475.19 399.79,471.2" stroke="#ff7f0a" stroke-width="1.8" fill="none"/></g><path d="M295.1,571.09 L302.8,566.69 L302.8,575.49 Z" fill="#ff7f0a"/><path d="M325.83,552.71 L333.53,548.31 L333.53,557.11 Z" fill="#ff7f0a"/><path d="M343.63,542.32 L351.33,537.92 L351.33,546.72 Z" fill="#ff7f0a"/><path d="M368.7,523.14 L376.4,518.74 L376.4,527.54 Z" fill="#ff7f0a"/><path d="M383.66,495.17 L391.36,490.77 L391.36,499.57 Z" fill="#ff7f0a"/><path d="M395.39,471.2 L403.09,466.8 L403.09,475.6 Z" fill="#ff7f0a"/><g clip-path="url(#cpF)"><path d="M299.5,571.09 C302.53,568.96 310.96,562.7 317.7,558.3 C324.44,553.91 332.39,549.51 339.94,544.72 C347.49,539.92 357.06,534.86 362.99,529.53 C368.92,524.2 371.75,519.68 375.53,512.75 C379.3,505.82 382.94,495.04 385.64,487.98 C388.33,480.92 390.69,473.33 391.7,470.4" stroke="#1ec81e" stroke-width="1.8" fill="none"/></g><path d="M299.5,566.69 L303.9,574.39 L295.1,574.39 Z" fill="#1ec81e"/><path d="M317.7,553.9 L322.1,561.6 L313.3,561.6 Z" fill="#1ec81e"/><path d="M339.94,540.32 L344.34,548.02 L335.54,548.02 Z" fill="#1ec81e"/><path d="M362.99,525.13 L367.39,532.83 L358.59,532.83 Z" fill="#1ec81e"/><path d="M375.53,508.35 L379.93,516.05 L371.13,516.05 Z" fill="#1ec81e"/><path d="M385.64,483.58 L390.04,491.28 L381.24,491.28 Z" fill="#1ec81e"/><path d="M391.7,466 L396.1,473.7 L387.3,473.7 Z" fill="#1ec81e"/><g clip-path="url(#cpF)"><path d="M299.5,571.09 C302.53,568.69 310.96,561.5 317.7,556.7 C324.44,551.91 332.39,546.98 339.94,542.32 C347.49,537.66 357.06,533.66 362.99,528.73 C368.92,523.81 371.75,519.68 375.53,512.75 C379.3,505.82 382.94,494.5 385.64,487.18 C388.33,479.85 390.69,471.86 391.7,468.8" stroke="#a8acff" stroke-width="1.8" fill="none"/></g><path d="M299.5,566.19 L303.9,571.09 L299.5,575.99 L295.1,571.09 Z" fill="#a8acff"/><path d="M317.7,551.8 L322.1,556.7 L317.7,561.6 L313.3,556.7 Z" fill="#a8acff"/><path d="M339.94,537.42 L344.34,542.32 L339.94,547.22 L335.54,542.32 Z" fill="#a8acff"/><path d="M362.99,523.83 L367.39,528.73 L362.99,533.63 L358.59,528.73 Z" fill="#a8acff"/><path d="M375.53,507.85 L379.93,512.75 L375.53,517.65 L371.13,512.75 Z" fill="#a8acff"/><path d="M385.64,482.28 L390.04,487.18 L385.64,492.08 L381.24,487.18 Z" fill="#a8acff"/><path d="M391.7,463.9 L396.1,468.8 L391.7,473.7 L387.3,468.8 Z" fill="#a8acff"/><g clip-path="url(#cpF)"></g><rect x="299.5" y="467.2" width="202.2" height="183.8" fill="none" stroke="#000" stroke-width="1.3"/><line x1="307.59" y1="651" x2="307.59" y2="649" stroke="#000" stroke-width="0.7" /><line x1="307.59" y1="467.2" x2="307.59" y2="469.2" stroke="#000" stroke-width="0.7" /><line x1="315.68" y1="651" x2="315.68" y2="649" stroke="#000" stroke-width="0.7" /><line x1="315.68" y1="467.2" x2="315.68" y2="469.2" stroke="#000" stroke-width="0.7" /><line x1="323.76" y1="651" x2="323.76" y2="649" stroke="#000" stroke-width="0.7" /><line x1="323.76" y1="467.2" x2="323.76" y2="469.2" stroke="#000" stroke-width="0.7" /><line x1="331.85" y1="651" x2="331.85" y2="649" stroke="#000" stroke-width="0.7" /><line x1="331.85" y1="467.2" x2="331.85" y2="469.2" stroke="#000" stroke-width="0.7" /><line x1="339.94" y1="651" x2="339.94" y2="647.8" stroke="#000" stroke-width="1.0" /><line x1="339.94" y1="467.2" x2="339.94" y2="470.4" stroke="#000" stroke-width="1.0" /><line x1="348.03" y1="651" x2="348.03" y2="649" stroke="#000" stroke-width="0.7" /><line x1="348.03" y1="467.2" x2="348.03" y2="469.2" stroke="#000" stroke-width="0.7" /><line x1="356.12" y1="651" x2="356.12" y2="649" stroke="#000" stroke-width="0.7" /><line x1="356.12" y1="467.2" x2="356.12" y2="469.2" stroke="#000" stroke-width="0.7" /><line x1="364.2" y1="651" x2="364.2" y2="649" stroke="#000" stroke-width="0.7" /><line x1="364.2" y1="467.2" x2="364.2" y2="469.2" stroke="#000" stroke-width="0.7" /><line x1="372.29" y1="651" x2="372.29" y2="649" stroke="#000" stroke-width="0.7" /><line x1="372.29" y1="467.2" x2="372.29" y2="469.2" stroke="#000" stroke-width="0.7" /><line x1="380.38" y1="651" x2="380.38" y2="647.8" stroke="#000" stroke-width="1.0" /><line x1="380.38" y1="467.2" x2="380.38" y2="470.4" stroke="#000" stroke-width="1.0" /><line x1="388.47" y1="651" x2="388.47" y2="649" stroke="#000" stroke-width="0.7" /><line x1="388.47" y1="467.2" x2="388.47" y2="469.2" stroke="#000" stroke-width="0.7" /><line x1="396.56" y1="651" x2="396.56" y2="649" stroke="#000" stroke-width="0.7" /><line x1="396.56" y1="467.2" x2="396.56" y2="469.2" stroke="#000" stroke-width="0.7" /><line x1="404.64" y1="651" x2="404.64" y2="649" stroke="#000" stroke-width="0.7" /><line x1="404.64" y1="467.2" x2="404.64" y2="469.2" stroke="#000" stroke-width="0.7" /><line x1="412.73" y1="651" x2="412.73" y2="649" stroke="#000" stroke-width="0.7" /><line x1="412.73" y1="467.2" x2="412.73" y2="469.2" stroke="#000" stroke-width="0.7" /><line x1="420.82" y1="651" x2="420.82" y2="647.8" stroke="#000" stroke-width="1.0" /><line x1="420.82" y1="467.2" x2="420.82" y2="470.4" stroke="#000" stroke-width="1.0" /><line x1="428.91" y1="651" x2="428.91" y2="649" stroke="#000" stroke-width="0.7" /><line x1="428.91" y1="467.2" x2="428.91" y2="469.2" stroke="#000" stroke-width="0.7" /><line x1="437" y1="651" x2="437" y2="649" stroke="#000" stroke-width="0.7" /><line x1="437" y1="467.2" x2="437" y2="469.2" stroke="#000" stroke-width="0.7" /><line x1="445.08" y1="651" x2="445.08" y2="649" stroke="#000" stroke-width="0.7" /><line x1="445.08" y1="467.2" x2="445.08" y2="469.2" stroke="#000" stroke-width="0.7" /><line x1="453.17" y1="651" x2="453.17" y2="649" stroke="#000" stroke-width="0.7" /><line x1="453.17" y1="467.2" x2="453.17" y2="469.2" stroke="#000" stroke-width="0.7" /><line x1="461.26" y1="651" x2="461.26" y2="647.8" stroke="#000" stroke-width="1.0" /><line x1="461.26" y1="467.2" x2="461.26" y2="470.4" stroke="#000" stroke-width="1.0" /><line x1="469.35" y1="651" x2="469.35" y2="649" stroke="#000" stroke-width="0.7" /><line x1="469.35" y1="467.2" x2="469.35" y2="469.2" stroke="#000" stroke-width="0.7" /><line x1="477.44" y1="651" x2="477.44" y2="649" stroke="#000" stroke-width="0.7" /><line x1="477.44" y1="467.2" x2="477.44" y2="469.2" stroke="#000" stroke-width="0.7" /><line x1="485.52" y1="651" x2="485.52" y2="649" stroke="#000" stroke-width="0.7" /><line x1="485.52" y1="467.2" x2="485.52" y2="469.2" stroke="#000" stroke-width="0.7" /><line x1="493.61" y1="651" x2="493.61" y2="649" stroke="#000" stroke-width="0.7" /><line x1="493.61" y1="467.2" x2="493.61" y2="469.2" stroke="#000" stroke-width="0.7" /><line x1="299.5" y1="643.01" x2="301.5" y2="643.01" stroke="#000" stroke-width="0.7" /><line x1="501.7" y1="643.01" x2="499.7" y2="643.01" stroke="#000" stroke-width="0.7" /><line x1="299.5" y1="635.02" x2="301.5" y2="635.02" stroke="#000" stroke-width="0.7" /><line x1="501.7" y1="635.02" x2="499.7" y2="635.02" stroke="#000" stroke-width="0.7" /><line x1="299.5" y1="627.03" x2="301.5" y2="627.03" stroke="#000" stroke-width="0.7" /><line x1="501.7" y1="627.03" x2="499.7" y2="627.03" stroke="#000" stroke-width="0.7" /><line x1="299.5" y1="619.03" x2="301.5" y2="619.03" stroke="#000" stroke-width="0.7" /><line x1="501.7" y1="619.03" x2="499.7" y2="619.03" stroke="#000" stroke-width="0.7" /><line x1="299.5" y1="611.04" x2="302.7" y2="611.04" stroke="#000" stroke-width="1.0" /><line x1="501.7" y1="611.04" x2="498.5" y2="611.04" stroke="#000" stroke-width="1.0" /><line x1="299.5" y1="603.05" x2="301.5" y2="603.05" stroke="#000" stroke-width="0.7" /><line x1="501.7" y1="603.05" x2="499.7" y2="603.05" stroke="#000" stroke-width="0.7" /><line x1="299.5" y1="595.06" x2="301.5" y2="595.06" stroke="#000" stroke-width="0.7" /><line x1="501.7" y1="595.06" x2="499.7" y2="595.06" stroke="#000" stroke-width="0.7" /><line x1="299.5" y1="587.07" x2="301.5" y2="587.07" stroke="#000" stroke-width="0.7" /><line x1="501.7" y1="587.07" x2="499.7" y2="587.07" stroke="#000" stroke-width="0.7" /><line x1="299.5" y1="579.08" x2="301.5" y2="579.08" stroke="#000" stroke-width="0.7" /><line x1="501.7" y1="579.08" x2="499.7" y2="579.08" stroke="#000" stroke-width="0.7" /><line x1="299.5" y1="571.09" x2="302.7" y2="571.09" stroke="#000" stroke-width="1.0" /><line x1="501.7" y1="571.09" x2="498.5" y2="571.09" stroke="#000" stroke-width="1.0" /><line x1="299.5" y1="563.1" x2="301.5" y2="563.1" stroke="#000" stroke-width="0.7" /><line x1="501.7" y1="563.1" x2="499.7" y2="563.1" stroke="#000" stroke-width="0.7" /><line x1="299.5" y1="555.1" x2="301.5" y2="555.1" stroke="#000" stroke-width="0.7" /><line x1="501.7" y1="555.1" x2="499.7" y2="555.1" stroke="#000" stroke-width="0.7" /><line x1="299.5" y1="547.11" x2="301.5" y2="547.11" stroke="#000" stroke-width="0.7" /><line x1="501.7" y1="547.11" x2="499.7" y2="547.11" stroke="#000" stroke-width="0.7" /><line x1="299.5" y1="539.12" x2="301.5" y2="539.12" stroke="#000" stroke-width="0.7" /><line x1="501.7" y1="539.12" x2="499.7" y2="539.12" stroke="#000" stroke-width="0.7" /><line x1="299.5" y1="531.13" x2="302.7" y2="531.13" stroke="#000" stroke-width="1.0" /><line x1="501.7" y1="531.13" x2="498.5" y2="531.13" stroke="#000" stroke-width="1.0" /><line x1="299.5" y1="523.14" x2="301.5" y2="523.14" stroke="#000" stroke-width="0.7" /><line x1="501.7" y1="523.14" x2="499.7" y2="523.14" stroke="#000" stroke-width="0.7" /><line x1="299.5" y1="515.15" x2="301.5" y2="515.15" stroke="#000" stroke-width="0.7" /><line x1="501.7" y1="515.15" x2="499.7" y2="515.15" stroke="#000" stroke-width="0.7" /><line x1="299.5" y1="507.16" x2="301.5" y2="507.16" stroke="#000" stroke-width="0.7" /><line x1="501.7" y1="507.16" x2="499.7" y2="507.16" stroke="#000" stroke-width="0.7" /><line x1="299.5" y1="499.17" x2="301.5" y2="499.17" stroke="#000" stroke-width="0.7" /><line x1="501.7" y1="499.17" x2="499.7" y2="499.17" stroke="#000" stroke-width="0.7" /><line x1="299.5" y1="491.17" x2="302.7" y2="491.17" stroke="#000" stroke-width="1.0" /><line x1="501.7" y1="491.17" x2="498.5" y2="491.17" stroke="#000" stroke-width="1.0" /><line x1="299.5" y1="483.18" x2="301.5" y2="483.18" stroke="#000" stroke-width="0.7" /><line x1="501.7" y1="483.18" x2="499.7" y2="483.18" stroke="#000" stroke-width="0.7" /><line x1="299.5" y1="475.19" x2="301.5" y2="475.19" stroke="#000" stroke-width="0.7" /><line x1="501.7" y1="475.19" x2="499.7" y2="475.19" stroke="#000" stroke-width="0.7" /><text x="299.5" y="659.4" font-size="8.0" text-anchor="middle" font-weight="normal" fill="#000"  style="">0</text><text x="339.94" y="659.4" font-size="8.0" text-anchor="middle" font-weight="normal" fill="#000"  style="">1</text><text x="380.38" y="659.4" font-size="8.0" text-anchor="middle" font-weight="normal" fill="#000"  style="">2</text><text x="420.82" y="659.4" font-size="8.0" text-anchor="middle" font-weight="normal" fill="#000"  style="">3</text><text x="461.26" y="659.4" font-size="8.0" text-anchor="middle" font-weight="normal" fill="#000"  style="">4</text><text x="501.7" y="659.4" font-size="8.0" text-anchor="middle" font-weight="normal" fill="#000"  style="">5</text><text x="295.7" y="653.8" font-size="8.0" text-anchor="end" font-weight="normal" fill="#000"  style="">0</text><text x="295.7" y="613.84" font-size="8.0" text-anchor="end" font-weight="normal" fill="#000"  style="">0.5</text><text x="295.7" y="573.89" font-size="8.0" text-anchor="end" font-weight="normal" fill="#000"  style="">1</text><text x="295.7" y="533.93" font-size="8.0" text-anchor="end" font-weight="normal" fill="#000"  style="">1.5</text><text x="295.7" y="493.97" font-size="8.0" text-anchor="end" font-weight="normal" fill="#000"  style="">2</text><text x="399.5" y="669.3" font-size="8.6" text-anchor="middle" font-weight="normal" fill="#000" textLength="28.5" lengthAdjust="spacingAndGlyphs"  style="">Time (ms)</text><text transform="translate(279.4,560.4) rotate(-90)" font-size="8.6" text-anchor="middle" textLength="52.8" lengthAdjust="spacingAndGlyphs">Superficial velocity</text>
<rect x="0.6" y="0.6" width="518.8" height="675.8" fill="none" stroke="#000" stroke-width="1.3"/>
</svg></body></html>
